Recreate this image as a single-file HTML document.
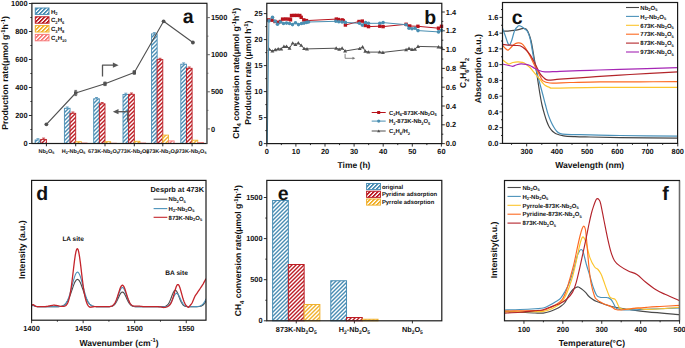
<!DOCTYPE html>
<html><head><meta charset="utf-8"><style>
html,body{margin:0;padding:0;background:#fff;width:685px;height:348px;overflow:hidden}
svg{display:block}
text{font-family:"Liberation Sans", sans-serif;text-rendering:geometricPrecision}
</style></head><body>
<svg width="685" height="348" viewBox="0 0 685 348">
<rect width="685" height="348" fill="#fff"/>
<defs>
<pattern id="hb" patternUnits="userSpaceOnUse" x="0" y="0" width="4" height="4" shape-rendering="crispEdges"><rect width="4" height="4" fill="#fff"/><rect x="0" y="0" width="1" height="1" fill="#4a8db4"/><rect x="1" y="0" width="1" height="1" fill="#4a8db4" fill-opacity="0.5"/><rect x="3" y="0" width="1" height="1" fill="#4a8db4" fill-opacity="0.5"/><rect x="0" y="1" width="1" height="1" fill="#4a8db4" fill-opacity="0.5"/><rect x="2" y="1" width="1" height="1" fill="#4a8db4" fill-opacity="0.5"/><rect x="3" y="1" width="1" height="1" fill="#4a8db4"/><rect x="1" y="2" width="1" height="1" fill="#4a8db4" fill-opacity="0.5"/><rect x="2" y="2" width="1" height="1" fill="#4a8db4"/><rect x="3" y="2" width="1" height="1" fill="#4a8db4" fill-opacity="0.5"/><rect x="0" y="3" width="1" height="1" fill="#4a8db4" fill-opacity="0.5"/><rect x="1" y="3" width="1" height="1" fill="#4a8db4"/><rect x="2" y="3" width="1" height="1" fill="#4a8db4" fill-opacity="0.5"/></pattern>
<pattern id="hr" patternUnits="userSpaceOnUse" x="0" y="0" width="4" height="4" shape-rendering="crispEdges"><rect width="4" height="4" fill="#fff"/><rect x="0" y="0" width="1" height="1" fill="#bc1e25"/><rect x="1" y="0" width="1" height="1" fill="#bc1e25" fill-opacity="0.5"/><rect x="3" y="0" width="1" height="1" fill="#bc1e25" fill-opacity="0.5"/><rect x="0" y="1" width="1" height="1" fill="#bc1e25" fill-opacity="0.5"/><rect x="2" y="1" width="1" height="1" fill="#bc1e25" fill-opacity="0.5"/><rect x="3" y="1" width="1" height="1" fill="#bc1e25"/><rect x="1" y="2" width="1" height="1" fill="#bc1e25" fill-opacity="0.5"/><rect x="2" y="2" width="1" height="1" fill="#bc1e25"/><rect x="3" y="2" width="1" height="1" fill="#bc1e25" fill-opacity="0.5"/><rect x="0" y="3" width="1" height="1" fill="#bc1e25" fill-opacity="0.5"/><rect x="1" y="3" width="1" height="1" fill="#bc1e25"/><rect x="2" y="3" width="1" height="1" fill="#bc1e25" fill-opacity="0.5"/></pattern>
<pattern id="hy" patternUnits="userSpaceOnUse" x="0" y="0" width="4" height="4" shape-rendering="crispEdges"><rect width="4" height="4" fill="#fff"/><rect x="0" y="0" width="1" height="1" fill="#f0b12e"/><rect x="1" y="0" width="1" height="1" fill="#f0b12e" fill-opacity="0.5"/><rect x="3" y="0" width="1" height="1" fill="#f0b12e" fill-opacity="0.5"/><rect x="0" y="1" width="1" height="1" fill="#f0b12e" fill-opacity="0.5"/><rect x="2" y="1" width="1" height="1" fill="#f0b12e" fill-opacity="0.5"/><rect x="3" y="1" width="1" height="1" fill="#f0b12e"/><rect x="1" y="2" width="1" height="1" fill="#f0b12e" fill-opacity="0.5"/><rect x="2" y="2" width="1" height="1" fill="#f0b12e"/><rect x="3" y="2" width="1" height="1" fill="#f0b12e" fill-opacity="0.5"/><rect x="0" y="3" width="1" height="1" fill="#f0b12e" fill-opacity="0.5"/><rect x="1" y="3" width="1" height="1" fill="#f0b12e"/><rect x="2" y="3" width="1" height="1" fill="#f0b12e" fill-opacity="0.5"/></pattern>
<pattern id="hp" patternUnits="userSpaceOnUse" x="0" y="0" width="4" height="4" shape-rendering="crispEdges"><rect width="4" height="4" fill="#fff"/><rect x="0" y="0" width="1" height="1" fill="#f77b7b"/><rect x="1" y="0" width="1" height="1" fill="#f77b7b" fill-opacity="0.5"/><rect x="3" y="0" width="1" height="1" fill="#f77b7b" fill-opacity="0.5"/><rect x="0" y="1" width="1" height="1" fill="#f77b7b" fill-opacity="0.5"/><rect x="2" y="1" width="1" height="1" fill="#f77b7b" fill-opacity="0.5"/><rect x="3" y="1" width="1" height="1" fill="#f77b7b"/><rect x="1" y="2" width="1" height="1" fill="#f77b7b" fill-opacity="0.5"/><rect x="2" y="2" width="1" height="1" fill="#f77b7b"/><rect x="3" y="2" width="1" height="1" fill="#f77b7b" fill-opacity="0.5"/><rect x="0" y="3" width="1" height="1" fill="#f77b7b" fill-opacity="0.5"/><rect x="1" y="3" width="1" height="1" fill="#f77b7b"/><rect x="2" y="3" width="1" height="1" fill="#f77b7b" fill-opacity="0.5"/></pattern>
<pattern id="hbL" patternUnits="userSpaceOnUse" x="0" y="0" width="4" height="4" shape-rendering="crispEdges"><rect width="4" height="4" fill="#fff"/><rect x="0" y="0" width="1" height="1" fill="#4a8db4"/><rect x="1" y="0" width="1" height="1" fill="#4a8db4"/><rect x="2" y="0" width="1" height="1" fill="#4a8db4" fill-opacity="0.3"/><rect x="0" y="1" width="1" height="1" fill="#4a8db4"/><rect x="1" y="1" width="1" height="1" fill="#4a8db4" fill-opacity="0.3"/><rect x="3" y="1" width="1" height="1" fill="#4a8db4"/><rect x="0" y="2" width="1" height="1" fill="#4a8db4" fill-opacity="0.3"/><rect x="2" y="2" width="1" height="1" fill="#4a8db4"/><rect x="3" y="2" width="1" height="1" fill="#4a8db4"/><rect x="1" y="3" width="1" height="1" fill="#4a8db4"/><rect x="2" y="3" width="1" height="1" fill="#4a8db4"/><rect x="3" y="3" width="1" height="1" fill="#4a8db4" fill-opacity="0.3"/></pattern>
<pattern id="hrL" patternUnits="userSpaceOnUse" x="0" y="0" width="4" height="4" shape-rendering="crispEdges"><rect width="4" height="4" fill="#fff"/><rect x="0" y="0" width="1" height="1" fill="#bc1e25"/><rect x="1" y="0" width="1" height="1" fill="#bc1e25"/><rect x="2" y="0" width="1" height="1" fill="#bc1e25" fill-opacity="0.3"/><rect x="0" y="1" width="1" height="1" fill="#bc1e25"/><rect x="1" y="1" width="1" height="1" fill="#bc1e25" fill-opacity="0.3"/><rect x="3" y="1" width="1" height="1" fill="#bc1e25"/><rect x="0" y="2" width="1" height="1" fill="#bc1e25" fill-opacity="0.3"/><rect x="2" y="2" width="1" height="1" fill="#bc1e25"/><rect x="3" y="2" width="1" height="1" fill="#bc1e25"/><rect x="1" y="3" width="1" height="1" fill="#bc1e25"/><rect x="2" y="3" width="1" height="1" fill="#bc1e25"/><rect x="3" y="3" width="1" height="1" fill="#bc1e25" fill-opacity="0.3"/></pattern>
<pattern id="hyL" patternUnits="userSpaceOnUse" x="0" y="0" width="4" height="4" shape-rendering="crispEdges"><rect width="4" height="4" fill="#fff"/><rect x="0" y="0" width="1" height="1" fill="#f0b12e"/><rect x="1" y="0" width="1" height="1" fill="#f0b12e"/><rect x="2" y="0" width="1" height="1" fill="#f0b12e" fill-opacity="0.3"/><rect x="0" y="1" width="1" height="1" fill="#f0b12e"/><rect x="1" y="1" width="1" height="1" fill="#f0b12e" fill-opacity="0.3"/><rect x="3" y="1" width="1" height="1" fill="#f0b12e"/><rect x="0" y="2" width="1" height="1" fill="#f0b12e" fill-opacity="0.3"/><rect x="2" y="2" width="1" height="1" fill="#f0b12e"/><rect x="3" y="2" width="1" height="1" fill="#f0b12e"/><rect x="1" y="3" width="1" height="1" fill="#f0b12e"/><rect x="2" y="3" width="1" height="1" fill="#f0b12e"/><rect x="3" y="3" width="1" height="1" fill="#f0b12e" fill-opacity="0.3"/></pattern>
<pattern id="hpL" patternUnits="userSpaceOnUse" x="0" y="0" width="4" height="4" shape-rendering="crispEdges"><rect width="4" height="4" fill="#fff"/><rect x="0" y="0" width="1" height="1" fill="#f77b7b"/><rect x="1" y="0" width="1" height="1" fill="#f77b7b"/><rect x="2" y="0" width="1" height="1" fill="#f77b7b" fill-opacity="0.3"/><rect x="0" y="1" width="1" height="1" fill="#f77b7b"/><rect x="1" y="1" width="1" height="1" fill="#f77b7b" fill-opacity="0.3"/><rect x="3" y="1" width="1" height="1" fill="#f77b7b"/><rect x="0" y="2" width="1" height="1" fill="#f77b7b" fill-opacity="0.3"/><rect x="2" y="2" width="1" height="1" fill="#f77b7b"/><rect x="3" y="2" width="1" height="1" fill="#f77b7b"/><rect x="1" y="3" width="1" height="1" fill="#f77b7b"/><rect x="2" y="3" width="1" height="1" fill="#f77b7b"/><rect x="3" y="3" width="1" height="1" fill="#f77b7b" fill-opacity="0.3"/></pattern>
</defs>
<line x1="28.90" y1="143.50" x2="31.90" y2="143.50" stroke="#1a1a1a" stroke-width="0.9"/>
<text x="27.5" y="146.1" font-size="7.4" font-weight="bold" text-anchor="end" fill="#111"><tspan>0</tspan></text>
<line x1="30.40" y1="129.50" x2="31.90" y2="129.50" stroke="#1a1a1a" stroke-width="0.9"/>
<line x1="28.90" y1="115.50" x2="31.90" y2="115.50" stroke="#1a1a1a" stroke-width="0.9"/>
<text x="27.5" y="118.1" font-size="7.4" font-weight="bold" text-anchor="end" fill="#111"><tspan>200</tspan></text>
<line x1="30.40" y1="101.50" x2="31.90" y2="101.50" stroke="#1a1a1a" stroke-width="0.9"/>
<line x1="28.90" y1="87.50" x2="31.90" y2="87.50" stroke="#1a1a1a" stroke-width="0.9"/>
<text x="27.5" y="90.1" font-size="7.4" font-weight="bold" text-anchor="end" fill="#111"><tspan>400</tspan></text>
<line x1="30.40" y1="73.50" x2="31.90" y2="73.50" stroke="#1a1a1a" stroke-width="0.9"/>
<line x1="28.90" y1="59.50" x2="31.90" y2="59.50" stroke="#1a1a1a" stroke-width="0.9"/>
<text x="27.5" y="62.09999999999999" font-size="7.4" font-weight="bold" text-anchor="end" fill="#111"><tspan>600</tspan></text>
<line x1="30.40" y1="45.50" x2="31.90" y2="45.50" stroke="#1a1a1a" stroke-width="0.9"/>
<line x1="28.90" y1="31.50" x2="31.90" y2="31.50" stroke="#1a1a1a" stroke-width="0.9"/>
<text x="27.5" y="34.09999999999999" font-size="7.4" font-weight="bold" text-anchor="end" fill="#111"><tspan>800</tspan></text>
<line x1="30.40" y1="17.50" x2="31.90" y2="17.50" stroke="#1a1a1a" stroke-width="0.9"/>
<line x1="28.90" y1="3.50" x2="31.90" y2="3.50" stroke="#1a1a1a" stroke-width="0.9"/>
<text x="27.5" y="6.1" font-size="7.4" font-weight="bold" text-anchor="end" fill="#111"><tspan>1000</tspan></text>
<line x1="206.90" y1="128.90" x2="209.90" y2="128.90" stroke="#555" stroke-width="0.9"/>
<text x="210.9" y="131.5" font-size="7.4" font-weight="bold" text-anchor="start" fill="#111"><tspan>0</tspan></text>
<line x1="206.90" y1="110.35" x2="208.40" y2="110.35" stroke="#555" stroke-width="0.9"/>
<line x1="206.90" y1="91.80" x2="209.90" y2="91.80" stroke="#555" stroke-width="0.9"/>
<text x="210.9" y="94.4" font-size="7.4" font-weight="bold" text-anchor="start" fill="#111"><tspan>500</tspan></text>
<line x1="206.90" y1="73.25" x2="208.40" y2="73.25" stroke="#555" stroke-width="0.9"/>
<line x1="206.90" y1="54.70" x2="209.90" y2="54.70" stroke="#555" stroke-width="0.9"/>
<text x="210.9" y="57.300000000000004" font-size="7.4" font-weight="bold" text-anchor="start" fill="#111"><tspan>1000</tspan></text>
<line x1="206.90" y1="36.15" x2="208.40" y2="36.15" stroke="#555" stroke-width="0.9"/>
<line x1="206.90" y1="17.60" x2="209.90" y2="17.60" stroke="#555" stroke-width="0.9"/>
<text x="210.9" y="20.20000000000001" font-size="7.4" font-weight="bold" text-anchor="start" fill="#111"><tspan>1500</tspan></text>
<line x1="46.40" y1="143.50" x2="46.40" y2="146.30" stroke="#1a1a1a" stroke-width="0.9"/>
<text x="46.4" y="152.6" font-size="5.5" font-weight="bold" text-anchor="middle" fill="#111"><tspan>Nb</tspan><tspan dy="1.38" font-size="3.74">2</tspan><tspan dy="-1.38">O</tspan><tspan dy="1.38" font-size="3.74">5</tspan></text>
<line x1="75.70" y1="143.50" x2="75.70" y2="146.30" stroke="#1a1a1a" stroke-width="0.9"/>
<text x="73.5" y="152.6" font-size="5.5" font-weight="bold" text-anchor="middle" fill="#111"><tspan>H</tspan><tspan dy="1.38" font-size="3.74">2</tspan><tspan dy="-1.38">-Nb</tspan><tspan dy="1.38" font-size="3.74">2</tspan><tspan dy="-1.38">O</tspan><tspan dy="1.38" font-size="3.74">5</tspan></text>
<line x1="105.00" y1="143.50" x2="105.00" y2="146.30" stroke="#1a1a1a" stroke-width="0.9"/>
<text x="103.4" y="152.6" font-size="5.5" font-weight="bold" text-anchor="middle" fill="#111"><tspan>673K-Nb</tspan><tspan dy="1.38" font-size="3.74">2</tspan><tspan dy="-1.38">O</tspan><tspan dy="1.38" font-size="3.74">5</tspan></text>
<line x1="134.30" y1="143.50" x2="134.30" y2="146.30" stroke="#1a1a1a" stroke-width="0.9"/>
<text x="133.10000000000002" y="152.6" font-size="5.5" font-weight="bold" text-anchor="middle" fill="#111"><tspan>773K-Nb</tspan><tspan dy="1.38" font-size="3.74">2</tspan><tspan dy="-1.38">O</tspan><tspan dy="1.38" font-size="3.74">5</tspan></text>
<line x1="162.80" y1="143.50" x2="162.80" y2="146.30" stroke="#1a1a1a" stroke-width="0.9"/>
<text x="161.5" y="152.6" font-size="5.5" font-weight="bold" text-anchor="middle" fill="#111"><tspan>873K-Nb</tspan><tspan dy="1.38" font-size="3.74">2</tspan><tspan dy="-1.38">O</tspan><tspan dy="1.38" font-size="3.74">5</tspan></text>
<line x1="192.10" y1="143.50" x2="192.10" y2="146.30" stroke="#1a1a1a" stroke-width="0.9"/>
<text x="191.1" y="152.6" font-size="5.5" font-weight="bold" text-anchor="middle" fill="#111"><tspan>973K-Nb</tspan><tspan dy="1.38" font-size="3.74">2</tspan><tspan dy="-1.38">O</tspan><tspan dy="1.38" font-size="3.74">5</tspan></text>
<rect x="35.10" y="140.00" width="5.65" height="3.50" fill="url(#hb)" stroke="#4a8db4" stroke-width="0.9"/>
<rect x="40.75" y="139.40" width="5.65" height="4.10" fill="url(#hr)" stroke="#bc1e25" stroke-width="0.9"/>
<line x1="37.92" y1="138.70" x2="37.92" y2="140.00" stroke="#4a8db4" stroke-width="0.8"/>
<line x1="36.42" y1="138.70" x2="39.42" y2="138.70" stroke="#4a8db4" stroke-width="0.8"/>
<line x1="43.58" y1="138.10" x2="43.58" y2="139.40" stroke="#bc1e25" stroke-width="0.8"/>
<line x1="42.08" y1="138.10" x2="45.08" y2="138.10" stroke="#bc1e25" stroke-width="0.8"/>
<rect x="64.40" y="108.30" width="5.65" height="35.20" fill="url(#hb)" stroke="#4a8db4" stroke-width="0.9"/>
<rect x="70.05" y="113.30" width="5.65" height="30.20" fill="url(#hr)" stroke="#bc1e25" stroke-width="0.9"/>
<rect x="75.70" y="141.70" width="5.65" height="1.80" fill="url(#hy)" stroke="#f0b12e" stroke-width="0.9"/>
<rect x="81.35" y="143.00" width="5.65" height="0.50" fill="url(#hp)" stroke="#f77b7b" stroke-width="0.9"/>
<line x1="67.22" y1="107.00" x2="67.22" y2="108.30" stroke="#4a8db4" stroke-width="0.8"/>
<line x1="65.72" y1="107.00" x2="68.72" y2="107.00" stroke="#4a8db4" stroke-width="0.8"/>
<line x1="72.88" y1="112.00" x2="72.88" y2="113.30" stroke="#bc1e25" stroke-width="0.8"/>
<line x1="71.38" y1="112.00" x2="74.38" y2="112.00" stroke="#bc1e25" stroke-width="0.8"/>
<rect x="93.70" y="98.80" width="5.65" height="44.70" fill="url(#hb)" stroke="#4a8db4" stroke-width="0.9"/>
<rect x="99.35" y="103.80" width="5.65" height="39.70" fill="url(#hr)" stroke="#bc1e25" stroke-width="0.9"/>
<rect x="105.00" y="141.70" width="5.65" height="1.80" fill="url(#hy)" stroke="#f0b12e" stroke-width="0.9"/>
<rect x="110.65" y="143.20" width="5.65" height="0.30" fill="url(#hp)" stroke="#f77b7b" stroke-width="0.9"/>
<line x1="96.53" y1="97.50" x2="96.53" y2="98.80" stroke="#4a8db4" stroke-width="0.8"/>
<line x1="95.03" y1="97.50" x2="98.03" y2="97.50" stroke="#4a8db4" stroke-width="0.8"/>
<line x1="102.17" y1="102.50" x2="102.17" y2="103.80" stroke="#bc1e25" stroke-width="0.8"/>
<line x1="100.67" y1="102.50" x2="103.67" y2="102.50" stroke="#bc1e25" stroke-width="0.8"/>
<rect x="123.00" y="94.50" width="5.65" height="49.00" fill="url(#hb)" stroke="#4a8db4" stroke-width="0.9"/>
<rect x="128.65" y="94.30" width="5.65" height="49.20" fill="url(#hr)" stroke="#bc1e25" stroke-width="0.9"/>
<rect x="134.30" y="141.30" width="5.65" height="2.20" fill="url(#hy)" stroke="#f0b12e" stroke-width="0.9"/>
<rect x="139.95" y="143.00" width="5.65" height="0.50" fill="url(#hp)" stroke="#f77b7b" stroke-width="0.9"/>
<line x1="125.83" y1="93.20" x2="125.83" y2="94.50" stroke="#4a8db4" stroke-width="0.8"/>
<line x1="124.33" y1="93.20" x2="127.33" y2="93.20" stroke="#4a8db4" stroke-width="0.8"/>
<line x1="131.48" y1="93.00" x2="131.48" y2="94.30" stroke="#bc1e25" stroke-width="0.8"/>
<line x1="129.98" y1="93.00" x2="132.98" y2="93.00" stroke="#bc1e25" stroke-width="0.8"/>
<rect x="151.50" y="33.90" width="5.65" height="109.60" fill="url(#hb)" stroke="#4a8db4" stroke-width="0.9"/>
<rect x="157.15" y="59.60" width="5.65" height="83.90" fill="url(#hr)" stroke="#bc1e25" stroke-width="0.9"/>
<rect x="162.80" y="135.10" width="5.65" height="8.40" fill="url(#hy)" stroke="#f0b12e" stroke-width="0.9"/>
<rect x="168.45" y="140.90" width="5.65" height="2.60" fill="url(#hp)" stroke="#f77b7b" stroke-width="0.9"/>
<line x1="154.32" y1="32.60" x2="154.32" y2="33.90" stroke="#4a8db4" stroke-width="0.8"/>
<line x1="152.82" y1="32.60" x2="155.82" y2="32.60" stroke="#4a8db4" stroke-width="0.8"/>
<line x1="159.98" y1="58.30" x2="159.98" y2="59.60" stroke="#bc1e25" stroke-width="0.8"/>
<line x1="158.48" y1="58.30" x2="161.48" y2="58.30" stroke="#bc1e25" stroke-width="0.8"/>
<rect x="180.80" y="64.20" width="5.65" height="79.30" fill="url(#hb)" stroke="#4a8db4" stroke-width="0.9"/>
<rect x="186.45" y="68.30" width="5.65" height="75.20" fill="url(#hr)" stroke="#bc1e25" stroke-width="0.9"/>
<rect x="192.10" y="140.20" width="5.65" height="3.30" fill="url(#hy)" stroke="#f0b12e" stroke-width="0.9"/>
<rect x="197.75" y="142.50" width="5.65" height="1.00" fill="url(#hp)" stroke="#f77b7b" stroke-width="0.9"/>
<line x1="183.62" y1="62.90" x2="183.62" y2="64.20" stroke="#4a8db4" stroke-width="0.8"/>
<line x1="182.12" y1="62.90" x2="185.12" y2="62.90" stroke="#4a8db4" stroke-width="0.8"/>
<line x1="189.27" y1="67.00" x2="189.27" y2="68.30" stroke="#bc1e25" stroke-width="0.8"/>
<line x1="187.77" y1="67.00" x2="190.77" y2="67.00" stroke="#bc1e25" stroke-width="0.8"/>
<polyline points="46.40,124.30 75.70,93.00 105.00,83.80 134.30,72.50 163.60,21.30 192.90,42.50" fill="none" stroke="#505050" stroke-width="1.1" stroke-linejoin="round"/>
<circle cx="46.4" cy="124.3" r="1.9" fill="#505050"/>
<rect x="74.00" y="91.30" width="3.4" height="3.4" fill="#505050"/>
<line x1="75.70" y1="90.40" x2="75.70" y2="95.60" stroke="#505050" stroke-width="0.8"/>
<line x1="74.30" y1="90.40" x2="77.10" y2="90.40" stroke="#505050" stroke-width="0.8"/>
<line x1="74.30" y1="95.60" x2="77.10" y2="95.60" stroke="#505050" stroke-width="0.8"/>
<rect x="103.30" y="82.10" width="3.4" height="3.4" fill="#505050"/>
<line x1="105.00" y1="82.00" x2="105.00" y2="85.60" stroke="#505050" stroke-width="0.8"/>
<line x1="103.60" y1="82.00" x2="106.40" y2="82.00" stroke="#505050" stroke-width="0.8"/>
<line x1="103.60" y1="85.60" x2="106.40" y2="85.60" stroke="#505050" stroke-width="0.8"/>
<rect x="132.60" y="70.80" width="3.4" height="3.4" fill="#505050"/>
<line x1="134.30" y1="70.70" x2="134.30" y2="74.30" stroke="#505050" stroke-width="0.8"/>
<line x1="132.90" y1="70.70" x2="135.70" y2="70.70" stroke="#505050" stroke-width="0.8"/>
<line x1="132.90" y1="74.30" x2="135.70" y2="74.30" stroke="#505050" stroke-width="0.8"/>
<circle cx="163.6" cy="21.3" r="1.9" fill="#505050"/>
<circle cx="192.9" cy="42.5" r="1.9" fill="#505050"/>
<polyline points="102.50,76.40 102.50,65.20 114.00,65.20" fill="none" stroke="#555" stroke-width="1.3" stroke-linejoin="round"/>
<path d="M112.9,62.6 L118.6,65.2 L112.9,67.8 Z" fill="#555"/>
<line x1="127.80" y1="110.00" x2="127.80" y2="122.00" stroke="#555" stroke-width="1.3"/>
<line x1="127.80" y1="111.70" x2="117.50" y2="111.70" stroke="#555" stroke-width="1.3"/>
<path d="M118.5,109.1 L112.8,111.7 L118.5,114.3 Z" fill="#555"/>
<rect x="31.9" y="3.3" width="175.0" height="140.2" fill="none" stroke="#1a1a1a" stroke-width="1.2"/>
<line x1="206.90" y1="3.90" x2="206.90" y2="143.50" stroke="#7a7a7a" stroke-width="1.3"/>
<rect x="35.30" y="8.00" width="13.70" height="6.40" fill="url(#hbL)" stroke="#4a8db4" stroke-width="1.0"/>
<text x="51.0" y="13.6" font-size="6.0" font-weight="bold" text-anchor="start" fill="#111"><tspan>H</tspan><tspan dy="1.50" font-size="4.08">2</tspan></text>
<rect x="35.30" y="16.80" width="13.70" height="6.40" fill="url(#hrL)" stroke="#bc1e25" stroke-width="1.0"/>
<text x="51.0" y="22.4" font-size="6.0" font-weight="bold" text-anchor="start" fill="#111"><tspan>C</tspan><tspan dy="1.50" font-size="4.08">2</tspan><tspan dy="-1.50">H</tspan><tspan dy="1.50" font-size="4.08">6</tspan></text>
<rect x="35.30" y="25.60" width="13.70" height="6.40" fill="url(#hyL)" stroke="#f0b12e" stroke-width="1.0"/>
<text x="51.0" y="31.200000000000003" font-size="6.0" font-weight="bold" text-anchor="start" fill="#111"><tspan>C</tspan><tspan dy="1.50" font-size="4.08">3</tspan><tspan dy="-1.50">H</tspan><tspan dy="1.50" font-size="4.08">8</tspan></text>
<rect x="35.30" y="34.40" width="13.70" height="6.40" fill="url(#hpL)" stroke="#f77b7b" stroke-width="1.0"/>
<text x="51.0" y="40.00000000000001" font-size="6.0" font-weight="bold" text-anchor="start" fill="#111"><tspan>C</tspan><tspan dy="1.50" font-size="4.08">4</tspan><tspan dy="-1.50">H</tspan><tspan dy="1.50" font-size="4.08">10</tspan></text>
<text x="188.1" y="22.8" font-size="19.5" font-weight="bold" text-anchor="middle" fill="#111"><tspan>a</tspan></text>
<text x="8.4" y="73.0" font-size="8.6" font-weight="bold" text-anchor="middle" fill="#111" transform="rotate(-90 8.4 73.0)" textLength="113.6" lengthAdjust="spacingAndGlyphs"><tspan>Production rate(μmol g</tspan><tspan dy="-3.27" font-size="5.85">-1</tspan><tspan dy="3.27">h</tspan><tspan dy="-3.27" font-size="5.85">-1</tspan><tspan dy="3.27">)</tspan></text>
<line x1="263.80" y1="143.60" x2="266.80" y2="143.60" stroke="#1a1a1a" stroke-width="0.9"/>
<text x="262.6" y="146.2" font-size="7.4" font-weight="bold" text-anchor="end" fill="#111"><tspan>0</tspan></text>
<line x1="265.30" y1="130.60" x2="266.80" y2="130.60" stroke="#1a1a1a" stroke-width="0.9"/>
<line x1="263.80" y1="117.60" x2="266.80" y2="117.60" stroke="#1a1a1a" stroke-width="0.9"/>
<text x="262.6" y="120.19999999999999" font-size="7.4" font-weight="bold" text-anchor="end" fill="#111"><tspan>5</tspan></text>
<line x1="265.30" y1="104.60" x2="266.80" y2="104.60" stroke="#1a1a1a" stroke-width="0.9"/>
<line x1="263.80" y1="91.60" x2="266.80" y2="91.60" stroke="#1a1a1a" stroke-width="0.9"/>
<text x="262.6" y="94.19999999999999" font-size="7.4" font-weight="bold" text-anchor="end" fill="#111"><tspan>10</tspan></text>
<line x1="265.30" y1="78.60" x2="266.80" y2="78.60" stroke="#1a1a1a" stroke-width="0.9"/>
<line x1="263.80" y1="65.60" x2="266.80" y2="65.60" stroke="#1a1a1a" stroke-width="0.9"/>
<text x="262.6" y="68.19999999999999" font-size="7.4" font-weight="bold" text-anchor="end" fill="#111"><tspan>15</tspan></text>
<line x1="265.30" y1="52.60" x2="266.80" y2="52.60" stroke="#1a1a1a" stroke-width="0.9"/>
<line x1="263.80" y1="39.60" x2="266.80" y2="39.60" stroke="#1a1a1a" stroke-width="0.9"/>
<text x="262.6" y="42.199999999999996" font-size="7.4" font-weight="bold" text-anchor="end" fill="#111"><tspan>20</tspan></text>
<line x1="265.30" y1="26.60" x2="266.80" y2="26.60" stroke="#1a1a1a" stroke-width="0.9"/>
<line x1="263.80" y1="13.60" x2="266.80" y2="13.60" stroke="#1a1a1a" stroke-width="0.9"/>
<text x="262.6" y="16.199999999999996" font-size="7.4" font-weight="bold" text-anchor="end" fill="#111"><tspan>25</tspan></text>
<line x1="441.80" y1="143.60" x2="444.80" y2="143.60" stroke="#1a1a1a" stroke-width="0.9"/>
<text x="445.8" y="146.2" font-size="7.4" font-weight="bold" text-anchor="start" fill="#111"><tspan>0.0</tspan></text>
<line x1="441.80" y1="134.20" x2="443.30" y2="134.20" stroke="#1a1a1a" stroke-width="0.9"/>
<line x1="441.80" y1="124.80" x2="444.80" y2="124.80" stroke="#1a1a1a" stroke-width="0.9"/>
<text x="445.8" y="127.39999999999999" font-size="7.4" font-weight="bold" text-anchor="start" fill="#111"><tspan>0.2</tspan></text>
<line x1="441.80" y1="115.40" x2="443.30" y2="115.40" stroke="#1a1a1a" stroke-width="0.9"/>
<line x1="441.80" y1="106.00" x2="444.80" y2="106.00" stroke="#1a1a1a" stroke-width="0.9"/>
<text x="445.8" y="108.6" font-size="7.4" font-weight="bold" text-anchor="start" fill="#111"><tspan>0.4</tspan></text>
<line x1="441.80" y1="96.60" x2="443.30" y2="96.60" stroke="#1a1a1a" stroke-width="0.9"/>
<line x1="441.80" y1="87.20" x2="444.80" y2="87.20" stroke="#1a1a1a" stroke-width="0.9"/>
<text x="445.8" y="89.79999999999998" font-size="7.4" font-weight="bold" text-anchor="start" fill="#111"><tspan>0.6</tspan></text>
<line x1="441.80" y1="77.80" x2="443.30" y2="77.80" stroke="#1a1a1a" stroke-width="0.9"/>
<line x1="441.80" y1="68.40" x2="444.80" y2="68.40" stroke="#1a1a1a" stroke-width="0.9"/>
<text x="445.8" y="70.99999999999999" font-size="7.4" font-weight="bold" text-anchor="start" fill="#111"><tspan>0.8</tspan></text>
<line x1="441.80" y1="59.00" x2="443.30" y2="59.00" stroke="#1a1a1a" stroke-width="0.9"/>
<line x1="441.80" y1="49.60" x2="444.80" y2="49.60" stroke="#1a1a1a" stroke-width="0.9"/>
<text x="445.8" y="52.199999999999996" font-size="7.4" font-weight="bold" text-anchor="start" fill="#111"><tspan>1.0</tspan></text>
<line x1="441.80" y1="40.20" x2="443.30" y2="40.20" stroke="#1a1a1a" stroke-width="0.9"/>
<line x1="441.80" y1="30.80" x2="444.80" y2="30.80" stroke="#1a1a1a" stroke-width="0.9"/>
<text x="445.8" y="33.399999999999984" font-size="7.4" font-weight="bold" text-anchor="start" fill="#111"><tspan>1.2</tspan></text>
<line x1="441.80" y1="21.40" x2="443.30" y2="21.40" stroke="#1a1a1a" stroke-width="0.9"/>
<line x1="441.80" y1="12.00" x2="444.80" y2="12.00" stroke="#1a1a1a" stroke-width="0.9"/>
<text x="445.8" y="14.599999999999971" font-size="7.4" font-weight="bold" text-anchor="start" fill="#111"><tspan>1.4</tspan></text>
<line x1="266.80" y1="143.60" x2="266.80" y2="146.60" stroke="#1a1a1a" stroke-width="0.9"/>
<text x="266.8" y="153.8" font-size="7.4" font-weight="bold" text-anchor="middle" fill="#111"><tspan>0</tspan></text>
<line x1="281.35" y1="143.60" x2="281.35" y2="145.10" stroke="#1a1a1a" stroke-width="0.9"/>
<line x1="295.90" y1="143.60" x2="295.90" y2="146.60" stroke="#1a1a1a" stroke-width="0.9"/>
<text x="295.90000000000003" y="153.8" font-size="7.4" font-weight="bold" text-anchor="middle" fill="#111"><tspan>10</tspan></text>
<line x1="310.45" y1="143.60" x2="310.45" y2="145.10" stroke="#1a1a1a" stroke-width="0.9"/>
<line x1="325.00" y1="143.60" x2="325.00" y2="146.60" stroke="#1a1a1a" stroke-width="0.9"/>
<text x="325.0" y="153.8" font-size="7.4" font-weight="bold" text-anchor="middle" fill="#111"><tspan>20</tspan></text>
<line x1="339.55" y1="143.60" x2="339.55" y2="145.10" stroke="#1a1a1a" stroke-width="0.9"/>
<line x1="354.10" y1="143.60" x2="354.10" y2="146.60" stroke="#1a1a1a" stroke-width="0.9"/>
<text x="354.1" y="153.8" font-size="7.4" font-weight="bold" text-anchor="middle" fill="#111"><tspan>30</tspan></text>
<line x1="368.65" y1="143.60" x2="368.65" y2="145.10" stroke="#1a1a1a" stroke-width="0.9"/>
<line x1="383.20" y1="143.60" x2="383.20" y2="146.60" stroke="#1a1a1a" stroke-width="0.9"/>
<text x="383.20000000000005" y="153.8" font-size="7.4" font-weight="bold" text-anchor="middle" fill="#111"><tspan>40</tspan></text>
<line x1="397.75" y1="143.60" x2="397.75" y2="145.10" stroke="#1a1a1a" stroke-width="0.9"/>
<line x1="412.30" y1="143.60" x2="412.30" y2="146.60" stroke="#1a1a1a" stroke-width="0.9"/>
<text x="412.3" y="153.8" font-size="7.4" font-weight="bold" text-anchor="middle" fill="#111"><tspan>50</tspan></text>
<line x1="426.85" y1="143.60" x2="426.85" y2="145.10" stroke="#1a1a1a" stroke-width="0.9"/>
<line x1="441.40" y1="143.60" x2="441.40" y2="146.60" stroke="#1a1a1a" stroke-width="0.9"/>
<text x="441.40000000000003" y="153.8" font-size="7.4" font-weight="bold" text-anchor="middle" fill="#111"><tspan>60</tspan></text>
<text x="354.0" y="167.9" font-size="8.5" font-weight="bold" text-anchor="middle" fill="#111" textLength="32.8" lengthAdjust="spacingAndGlyphs"><tspan>Time (h)</tspan></text>
<text x="239.0" y="73.3" font-size="8.6" font-weight="bold" text-anchor="middle" fill="#111" transform="rotate(-90 239.0 73.3)" textLength="131" lengthAdjust="spacingAndGlyphs"><tspan>CH</tspan><tspan dy="2.15" font-size="5.85">4</tspan><tspan dy="-2.15"> conversion rate(μmol g</tspan><tspan dy="-3.27" font-size="5.85">-1</tspan><tspan dy="3.27">h</tspan><tspan dy="-3.27" font-size="5.85">-1</tspan><tspan dy="3.27">)</tspan></text>
<text x="250.8" y="72.65" font-size="8.6" font-weight="bold" text-anchor="middle" fill="#111" transform="rotate(-90 250.8 72.65)" textLength="104" lengthAdjust="spacingAndGlyphs"><tspan>Production rate (μmol h</tspan><tspan dy="-3.27" font-size="5.85">-1</tspan><tspan dy="3.27">)</tspan></text>
<text x="466.4" y="72.9" font-size="8.6" font-weight="bold" text-anchor="middle" fill="#111" transform="rotate(-90 466.4 72.9)" textLength="30" lengthAdjust="spacingAndGlyphs"><tspan>C</tspan><tspan dy="2.15" font-size="5.85">2</tspan><tspan dy="-2.15">H</tspan><tspan dy="2.15" font-size="5.85">6</tspan><tspan dy="-2.15">/H</tspan><tspan dy="2.15" font-size="5.85">2</tspan></text>
<polyline points="269.30,49.30 272.40,51.10 275.30,49.70 278.20,48.90 281.20,48.90 283.90,46.40 286.60,46.40 289.50,48.20 292.70,43.10 295.40,44.60 298.30,43.00 301.20,45.30 304.10,48.60 307.00,48.90 336.20,48.20 339.20,49.30 342.10,48.20 345.10,51.00 359.70,48.60 362.60,46.90 365.30,51.20 368.40,52.10 379.60,52.10 382.90,52.40 406.10,49.70 409.00,48.40 412.00,49.50 415.00,49.20 418.00,46.40 438.50,46.90 441.50,47.30" fill="none" stroke="#505050" stroke-width="1.0" stroke-linejoin="round"/>
<path d="M267.30,50.80 L269.30,47.40 L271.30,50.80 Z" fill="#505050"/>
<path d="M270.40,52.60 L272.40,49.20 L274.40,52.60 Z" fill="#505050"/>
<path d="M273.30,51.20 L275.30,47.80 L277.30,51.20 Z" fill="#505050"/>
<path d="M276.20,50.40 L278.20,47.00 L280.20,50.40 Z" fill="#505050"/>
<path d="M279.20,50.40 L281.20,47.00 L283.20,50.40 Z" fill="#505050"/>
<path d="M281.90,47.90 L283.90,44.50 L285.90,47.90 Z" fill="#505050"/>
<path d="M284.60,47.90 L286.60,44.50 L288.60,47.90 Z" fill="#505050"/>
<path d="M287.50,49.70 L289.50,46.30 L291.50,49.70 Z" fill="#505050"/>
<path d="M290.70,44.60 L292.70,41.20 L294.70,44.60 Z" fill="#505050"/>
<path d="M293.40,46.10 L295.40,42.70 L297.40,46.10 Z" fill="#505050"/>
<path d="M296.30,44.50 L298.30,41.10 L300.30,44.50 Z" fill="#505050"/>
<path d="M299.20,46.80 L301.20,43.40 L303.20,46.80 Z" fill="#505050"/>
<path d="M302.10,50.10 L304.10,46.70 L306.10,50.10 Z" fill="#505050"/>
<path d="M305.00,50.40 L307.00,47.00 L309.00,50.40 Z" fill="#505050"/>
<path d="M334.20,49.70 L336.20,46.30 L338.20,49.70 Z" fill="#505050"/>
<path d="M337.20,50.80 L339.20,47.40 L341.20,50.80 Z" fill="#505050"/>
<path d="M340.10,49.70 L342.10,46.30 L344.10,49.70 Z" fill="#505050"/>
<path d="M343.10,52.50 L345.10,49.10 L347.10,52.50 Z" fill="#505050"/>
<path d="M357.70,50.10 L359.70,46.70 L361.70,50.10 Z" fill="#505050"/>
<path d="M360.60,48.40 L362.60,45.00 L364.60,48.40 Z" fill="#505050"/>
<path d="M363.30,52.70 L365.30,49.30 L367.30,52.70 Z" fill="#505050"/>
<path d="M366.40,53.60 L368.40,50.20 L370.40,53.60 Z" fill="#505050"/>
<path d="M377.60,53.60 L379.60,50.20 L381.60,53.60 Z" fill="#505050"/>
<path d="M380.90,53.90 L382.90,50.50 L384.90,53.90 Z" fill="#505050"/>
<path d="M404.10,51.20 L406.10,47.80 L408.10,51.20 Z" fill="#505050"/>
<path d="M407.00,49.90 L409.00,46.50 L411.00,49.90 Z" fill="#505050"/>
<path d="M410.00,51.00 L412.00,47.60 L414.00,51.00 Z" fill="#505050"/>
<path d="M413.00,50.70 L415.00,47.30 L417.00,50.70 Z" fill="#505050"/>
<path d="M416.00,47.90 L418.00,44.50 L420.00,47.90 Z" fill="#505050"/>
<path d="M436.50,48.40 L438.50,45.00 L440.50,48.40 Z" fill="#505050"/>
<path d="M439.50,48.80 L441.50,45.40 L443.50,48.80 Z" fill="#505050"/>
<polyline points="268.70,19.90 272.00,20.20 275.00,21.50 278.00,22.30 280.50,21.50 282.60,19.10 285.70,19.00 288.80,19.10 290.50,19.80 291.50,15.50 294.30,15.40 297.10,15.40 299.80,15.50 301.20,17.30 303.80,19.90 306.50,20.60 336.30,19.10 338.30,19.50 342.10,19.90 343.20,20.60 345.40,25.00 359.00,21.50 362.30,21.10 365.20,25.50 368.50,26.60 379.80,26.20 383.10,26.60 406.10,24.30 409.70,26.00 417.90,26.30 438.50,28.20 441.50,26.30" fill="none" stroke="#b8121b" stroke-width="1.0" stroke-linejoin="round"/>
<rect x="267.00" y="18.20" width="3.4" height="3.4" fill="#b8121b"/>
<rect x="270.30" y="18.50" width="3.4" height="3.4" fill="#b8121b"/>
<rect x="273.30" y="19.80" width="3.4" height="3.4" fill="#b8121b"/>
<rect x="276.30" y="20.60" width="3.4" height="3.4" fill="#b8121b"/>
<rect x="278.80" y="19.80" width="3.4" height="3.4" fill="#b8121b"/>
<rect x="280.90" y="17.40" width="3.4" height="3.4" fill="#b8121b"/>
<rect x="284.00" y="17.30" width="3.4" height="3.4" fill="#b8121b"/>
<rect x="287.10" y="17.40" width="3.4" height="3.4" fill="#b8121b"/>
<rect x="288.80" y="18.10" width="3.4" height="3.4" fill="#b8121b"/>
<rect x="289.80" y="13.80" width="3.4" height="3.4" fill="#b8121b"/>
<rect x="292.60" y="13.70" width="3.4" height="3.4" fill="#b8121b"/>
<rect x="295.40" y="13.70" width="3.4" height="3.4" fill="#b8121b"/>
<rect x="298.10" y="13.80" width="3.4" height="3.4" fill="#b8121b"/>
<rect x="299.50" y="15.60" width="3.4" height="3.4" fill="#b8121b"/>
<rect x="302.10" y="18.20" width="3.4" height="3.4" fill="#b8121b"/>
<rect x="304.80" y="18.90" width="3.4" height="3.4" fill="#b8121b"/>
<rect x="334.60" y="17.40" width="3.4" height="3.4" fill="#b8121b"/>
<rect x="336.60" y="17.80" width="3.4" height="3.4" fill="#b8121b"/>
<rect x="340.40" y="18.20" width="3.4" height="3.4" fill="#b8121b"/>
<rect x="341.50" y="18.90" width="3.4" height="3.4" fill="#b8121b"/>
<rect x="343.70" y="23.30" width="3.4" height="3.4" fill="#b8121b"/>
<rect x="357.30" y="19.80" width="3.4" height="3.4" fill="#b8121b"/>
<rect x="360.60" y="19.40" width="3.4" height="3.4" fill="#b8121b"/>
<rect x="363.50" y="23.80" width="3.4" height="3.4" fill="#b8121b"/>
<rect x="366.80" y="24.90" width="3.4" height="3.4" fill="#b8121b"/>
<rect x="378.10" y="24.50" width="3.4" height="3.4" fill="#b8121b"/>
<rect x="381.40" y="24.90" width="3.4" height="3.4" fill="#b8121b"/>
<rect x="404.40" y="22.60" width="3.4" height="3.4" fill="#b8121b"/>
<rect x="408.00" y="24.30" width="3.4" height="3.4" fill="#b8121b"/>
<rect x="416.20" y="24.60" width="3.4" height="3.4" fill="#b8121b"/>
<rect x="436.80" y="26.50" width="3.4" height="3.4" fill="#b8121b"/>
<rect x="439.80" y="24.60" width="3.4" height="3.4" fill="#b8121b"/>
<polyline points="267.30,143.50 268.90,20.90 272.50,17.30 275.20,21.30 277.50,24.20 280.50,22.00 283.50,23.50 286.50,23.10 289.50,23.50 292.50,24.60 295.50,22.80 298.50,24.60 301.50,23.50 304.00,23.10 306.50,22.40 308.50,22.00 335.90,21.30 338.80,21.70 342.10,22.00 345.40,22.40 359.40,23.30 362.30,25.10 365.60,22.60 368.50,23.30 379.80,23.30 383.10,22.60 406.10,24.70 409.00,28.20 412.00,28.70 415.00,28.20 418.00,30.60 438.50,31.90 441.50,30.30" fill="none" stroke="#4a8fb2" stroke-width="1.0" stroke-linejoin="round"/>
<circle cx="268.90" cy="20.90" r="1.8" fill="#4a8fb2"/>
<circle cx="272.50" cy="17.30" r="1.8" fill="#4a8fb2"/>
<circle cx="275.20" cy="21.30" r="1.8" fill="#4a8fb2"/>
<circle cx="277.50" cy="24.20" r="1.8" fill="#4a8fb2"/>
<circle cx="280.50" cy="22.00" r="1.8" fill="#4a8fb2"/>
<circle cx="283.50" cy="23.50" r="1.8" fill="#4a8fb2"/>
<circle cx="286.50" cy="23.10" r="1.8" fill="#4a8fb2"/>
<circle cx="289.50" cy="23.50" r="1.8" fill="#4a8fb2"/>
<circle cx="292.50" cy="24.60" r="1.8" fill="#4a8fb2"/>
<circle cx="295.50" cy="22.80" r="1.8" fill="#4a8fb2"/>
<circle cx="298.50" cy="24.60" r="1.8" fill="#4a8fb2"/>
<circle cx="301.50" cy="23.50" r="1.8" fill="#4a8fb2"/>
<circle cx="304.00" cy="23.10" r="1.8" fill="#4a8fb2"/>
<circle cx="306.50" cy="22.40" r="1.8" fill="#4a8fb2"/>
<circle cx="308.50" cy="22.00" r="1.8" fill="#4a8fb2"/>
<circle cx="335.90" cy="21.30" r="1.8" fill="#4a8fb2"/>
<circle cx="338.80" cy="21.70" r="1.8" fill="#4a8fb2"/>
<circle cx="342.10" cy="22.00" r="1.8" fill="#4a8fb2"/>
<circle cx="345.40" cy="22.40" r="1.8" fill="#4a8fb2"/>
<circle cx="359.40" cy="23.30" r="1.8" fill="#4a8fb2"/>
<circle cx="362.30" cy="25.10" r="1.8" fill="#4a8fb2"/>
<circle cx="365.60" cy="22.60" r="1.8" fill="#4a8fb2"/>
<circle cx="368.50" cy="23.30" r="1.8" fill="#4a8fb2"/>
<circle cx="379.80" cy="23.30" r="1.8" fill="#4a8fb2"/>
<circle cx="383.10" cy="22.60" r="1.8" fill="#4a8fb2"/>
<circle cx="406.10" cy="24.70" r="1.8" fill="#4a8fb2"/>
<circle cx="409.00" cy="28.20" r="1.8" fill="#4a8fb2"/>
<circle cx="412.00" cy="28.70" r="1.8" fill="#4a8fb2"/>
<circle cx="415.00" cy="28.20" r="1.8" fill="#4a8fb2"/>
<circle cx="418.00" cy="30.60" r="1.8" fill="#4a8fb2"/>
<circle cx="438.50" cy="31.90" r="1.8" fill="#4a8fb2"/>
<circle cx="441.50" cy="30.30" r="1.8" fill="#4a8fb2"/>
<polyline points="345.10,53.80 345.10,58.30 353.00,58.30" fill="none" stroke="#777" stroke-width="0.9" stroke-linejoin="round"/>
<path d="M352.5,56.8 L355.3,58.3 L352.5,59.8 Z" fill="#777"/>
<rect x="266.8" y="3.3" width="175.0" height="140.29999999999998" fill="none" stroke="#1a1a1a" stroke-width="1.2"/>
<text x="430.1" y="23.6" font-size="19.5" font-weight="bold" text-anchor="middle" fill="#111"><tspan>b</tspan></text>
<line x1="371.70" y1="112.50" x2="385.70" y2="112.50" stroke="#b8121b" stroke-width="1.0"/>
<rect x="377.2" y="111.0" width="3" height="3" fill="#b8121b"/>
<text x="388.9" y="114.7" font-size="5.9" font-weight="bold" text-anchor="start" fill="#111"><tspan>C</tspan><tspan dy="1.48" font-size="4.01">2</tspan><tspan dy="-1.48">H</tspan><tspan dy="1.48" font-size="4.01">6</tspan><tspan dy="-1.48">-873K-Nb</tspan><tspan dy="1.48" font-size="4.01">2</tspan><tspan dy="-1.48">O</tspan><tspan dy="1.48" font-size="4.01">5</tspan></text>
<line x1="371.70" y1="121.10" x2="385.70" y2="121.10" stroke="#4a8fb2" stroke-width="1.0"/>
<circle cx="378.7" cy="121.1" r="1.6" fill="#4a8fb2"/>
<text x="388.9" y="123.3" font-size="5.9" font-weight="bold" text-anchor="start" fill="#111"><tspan>H</tspan><tspan dy="1.48" font-size="4.01">2</tspan><tspan dy="-1.48">-873K-Nb</tspan><tspan dy="1.48" font-size="4.01">2</tspan><tspan dy="-1.48">O</tspan><tspan dy="1.48" font-size="4.01">5</tspan></text>
<line x1="371.70" y1="131.00" x2="385.70" y2="131.00" stroke="#505050" stroke-width="1.0"/>
<path d="M377.09999999999997,132.2 L378.7,129.4 L380.3,132.2 Z" fill="#505050"/>
<text x="388.9" y="133.2" font-size="5.9" font-weight="bold" text-anchor="start" fill="#111"><tspan>C</tspan><tspan dy="1.48" font-size="4.01">2</tspan><tspan dy="-1.48">H</tspan><tspan dy="1.48" font-size="4.01">6</tspan><tspan dy="-1.48">/H</tspan><tspan dy="1.48" font-size="4.01">2</tspan></text>
<line x1="499.50" y1="143.40" x2="502.50" y2="143.40" stroke="#1a1a1a" stroke-width="0.9"/>
<text x="498.3" y="146.0" font-size="7.4" font-weight="bold" text-anchor="end" fill="#111"><tspan>0.0</tspan></text>
<line x1="501.00" y1="135.53" x2="502.50" y2="135.53" stroke="#1a1a1a" stroke-width="0.9"/>
<line x1="499.50" y1="127.65" x2="502.50" y2="127.65" stroke="#1a1a1a" stroke-width="0.9"/>
<text x="498.3" y="130.25" font-size="7.4" font-weight="bold" text-anchor="end" fill="#111"><tspan>0.2</tspan></text>
<line x1="501.00" y1="119.78" x2="502.50" y2="119.78" stroke="#1a1a1a" stroke-width="0.9"/>
<line x1="499.50" y1="111.90" x2="502.50" y2="111.90" stroke="#1a1a1a" stroke-width="0.9"/>
<text x="498.3" y="114.5" font-size="7.4" font-weight="bold" text-anchor="end" fill="#111"><tspan>0.4</tspan></text>
<line x1="501.00" y1="104.03" x2="502.50" y2="104.03" stroke="#1a1a1a" stroke-width="0.9"/>
<line x1="499.50" y1="96.15" x2="502.50" y2="96.15" stroke="#1a1a1a" stroke-width="0.9"/>
<text x="498.3" y="98.75" font-size="7.4" font-weight="bold" text-anchor="end" fill="#111"><tspan>0.6</tspan></text>
<line x1="501.00" y1="88.28" x2="502.50" y2="88.28" stroke="#1a1a1a" stroke-width="0.9"/>
<line x1="499.50" y1="80.40" x2="502.50" y2="80.40" stroke="#1a1a1a" stroke-width="0.9"/>
<text x="498.3" y="83.0" font-size="7.4" font-weight="bold" text-anchor="end" fill="#111"><tspan>0.8</tspan></text>
<line x1="501.00" y1="72.53" x2="502.50" y2="72.53" stroke="#1a1a1a" stroke-width="0.9"/>
<line x1="499.50" y1="64.65" x2="502.50" y2="64.65" stroke="#1a1a1a" stroke-width="0.9"/>
<text x="498.3" y="67.25" font-size="7.4" font-weight="bold" text-anchor="end" fill="#111"><tspan>1.0</tspan></text>
<line x1="501.00" y1="56.78" x2="502.50" y2="56.78" stroke="#1a1a1a" stroke-width="0.9"/>
<line x1="499.50" y1="48.90" x2="502.50" y2="48.90" stroke="#1a1a1a" stroke-width="0.9"/>
<text x="498.3" y="51.49999999999999" font-size="7.4" font-weight="bold" text-anchor="end" fill="#111"><tspan>1.2</tspan></text>
<line x1="501.00" y1="41.03" x2="502.50" y2="41.03" stroke="#1a1a1a" stroke-width="0.9"/>
<line x1="499.50" y1="33.15" x2="502.50" y2="33.15" stroke="#1a1a1a" stroke-width="0.9"/>
<text x="498.3" y="35.74999999999999" font-size="7.4" font-weight="bold" text-anchor="end" fill="#111"><tspan>1.4</tspan></text>
<line x1="501.00" y1="25.28" x2="502.50" y2="25.28" stroke="#1a1a1a" stroke-width="0.9"/>
<line x1="499.50" y1="17.40" x2="502.50" y2="17.40" stroke="#1a1a1a" stroke-width="0.9"/>
<text x="498.3" y="20.000000000000007" font-size="7.4" font-weight="bold" text-anchor="end" fill="#111"><tspan>1.6</tspan></text>
<line x1="501.00" y1="9.53" x2="502.50" y2="9.53" stroke="#1a1a1a" stroke-width="0.9"/>
<line x1="511.57" y1="143.40" x2="511.57" y2="144.90" stroke="#1a1a1a" stroke-width="0.9"/>
<line x1="526.68" y1="143.40" x2="526.68" y2="146.40" stroke="#1a1a1a" stroke-width="0.9"/>
<text x="526.676" y="153.6" font-size="7.4" font-weight="bold" text-anchor="middle" fill="#111"><tspan>300</tspan></text>
<line x1="541.79" y1="143.40" x2="541.79" y2="144.90" stroke="#1a1a1a" stroke-width="0.9"/>
<line x1="556.90" y1="143.40" x2="556.90" y2="146.40" stroke="#1a1a1a" stroke-width="0.9"/>
<text x="556.896" y="153.6" font-size="7.4" font-weight="bold" text-anchor="middle" fill="#111"><tspan>400</tspan></text>
<line x1="572.01" y1="143.40" x2="572.01" y2="144.90" stroke="#1a1a1a" stroke-width="0.9"/>
<line x1="587.12" y1="143.40" x2="587.12" y2="146.40" stroke="#1a1a1a" stroke-width="0.9"/>
<text x="587.116" y="153.6" font-size="7.4" font-weight="bold" text-anchor="middle" fill="#111"><tspan>500</tspan></text>
<line x1="602.23" y1="143.40" x2="602.23" y2="144.90" stroke="#1a1a1a" stroke-width="0.9"/>
<line x1="617.34" y1="143.40" x2="617.34" y2="146.40" stroke="#1a1a1a" stroke-width="0.9"/>
<text x="617.336" y="153.6" font-size="7.4" font-weight="bold" text-anchor="middle" fill="#111"><tspan>600</tspan></text>
<line x1="632.45" y1="143.40" x2="632.45" y2="144.90" stroke="#1a1a1a" stroke-width="0.9"/>
<line x1="647.56" y1="143.40" x2="647.56" y2="146.40" stroke="#1a1a1a" stroke-width="0.9"/>
<text x="647.556" y="153.6" font-size="7.4" font-weight="bold" text-anchor="middle" fill="#111"><tspan>700</tspan></text>
<line x1="662.67" y1="143.40" x2="662.67" y2="144.90" stroke="#1a1a1a" stroke-width="0.9"/>
<line x1="677.78" y1="143.40" x2="677.78" y2="146.40" stroke="#1a1a1a" stroke-width="0.9"/>
<text x="677.7760000000001" y="153.6" font-size="7.4" font-weight="bold" text-anchor="middle" fill="#111"><tspan>800</tspan></text>
<text x="589.7" y="167.7" font-size="8.6" font-weight="bold" text-anchor="middle" fill="#111" textLength="68.9" lengthAdjust="spacingAndGlyphs"><tspan>Wavelength (nm)</tspan></text>
<text x="480.6" y="68.7" font-size="8.6" font-weight="bold" text-anchor="middle" fill="#111" transform="rotate(-90 480.6 68.7)" textLength="69.3" lengthAdjust="spacingAndGlyphs"><tspan>Absorption (a.u.)</tspan></text>
<clipPath id="clc"><rect x="502.5" y="2.5" width="175.10000000000002" height="140.9"/></clipPath>
<g clip-path="url(#clc)">
<path d="M502.50,31.20 C503.75,31.13 507.75,30.97 510.00,30.80 C512.25,30.63 514.02,30.55 516.00,30.20 C517.98,29.85 520.48,28.97 521.90,28.70 C523.32,28.43 523.65,28.38 524.50,28.60 C525.35,28.82 526.22,28.97 527.00,30.00 C527.78,31.03 528.50,32.88 529.20,34.80 C529.90,36.72 530.60,38.97 531.20,41.50 C531.80,44.03 532.25,46.92 532.80,50.00 C533.35,53.08 533.90,56.50 534.50,60.00 C535.10,63.50 535.78,67.17 536.40,71.00 C537.02,74.83 537.58,79.00 538.20,83.00 C538.82,87.00 539.47,91.33 540.10,95.00 C540.73,98.67 541.27,101.77 542.00,105.00 C542.73,108.23 543.70,111.65 544.50,114.40 C545.30,117.15 545.98,119.35 546.80,121.50 C547.62,123.65 548.45,125.68 549.40,127.30 C550.35,128.92 551.40,130.13 552.50,131.20 C553.60,132.27 554.15,132.93 556.00,133.70 C557.85,134.47 560.43,135.32 563.60,135.80 C566.77,136.28 570.60,136.40 575.00,136.60 C579.40,136.80 582.50,136.83 590.00,137.00 C597.50,137.17 605.38,137.40 620.00,137.60 C634.62,137.80 668.08,138.10 677.70,138.20" fill="none" stroke="#454545" stroke-width="1.2" stroke-linejoin="round"/>
<path d="M502.50,28.20 C502.92,29.33 503.95,32.20 505.00,35.00 C506.05,37.80 507.72,44.00 508.80,45.00 C509.88,46.00 510.55,43.33 511.50,41.00 C512.45,38.67 513.38,33.50 514.50,31.00 C515.62,28.50 517.12,26.78 518.20,26.00 C519.28,25.22 520.03,25.92 521.00,26.30 C521.97,26.68 522.92,27.43 524.00,28.30 C525.08,29.17 526.47,29.72 527.50,31.50 C528.53,33.28 529.42,35.92 530.20,39.00 C530.98,42.08 531.57,46.50 532.20,50.00 C532.83,53.50 533.32,56.67 534.00,60.00 C534.68,63.33 535.40,66.33 536.30,70.00 C537.20,73.67 538.30,77.83 539.40,82.00 C540.50,86.17 541.88,91.17 542.90,95.00 C543.92,98.83 544.63,101.77 545.50,105.00 C546.37,108.23 547.20,111.65 548.10,114.40 C549.00,117.15 549.93,119.35 550.90,121.50 C551.87,123.65 552.95,125.68 553.90,127.30 C554.85,128.92 555.62,130.18 556.60,131.20 C557.58,132.22 558.18,132.88 559.80,133.40 C561.42,133.92 561.27,134.07 566.30,134.30 C571.33,134.53 581.05,134.60 590.00,134.80 C598.95,135.00 605.38,135.27 620.00,135.50 C634.62,135.73 668.08,136.08 677.70,136.20" fill="none" stroke="#4b92ba" stroke-width="1.2" stroke-linejoin="round"/>
<path d="M502.50,59.70 C503.08,60.17 504.92,61.77 506.00,62.50 C507.08,63.23 507.83,64.10 509.00,64.10 C510.17,64.10 511.50,62.87 513.00,62.50 C514.50,62.13 516.50,61.93 518.00,61.90 C519.50,61.87 520.83,62.05 522.00,62.30 C523.17,62.55 523.67,62.53 525.00,63.40 C526.33,64.27 528.33,65.80 530.00,67.50 C531.67,69.20 533.33,71.60 535.00,73.60 C536.67,75.60 538.33,77.55 540.00,79.50 C541.67,81.45 543.33,83.97 545.00,85.30 C546.67,86.63 548.33,87.02 550.00,87.50 C551.67,87.98 546.67,88.22 555.00,88.20 C563.33,88.18 579.55,87.53 600.00,87.40 C620.45,87.27 664.75,87.40 677.70,87.40" fill="none" stroke="#fcc52c" stroke-width="1.2" stroke-linejoin="round"/>
<path d="M502.50,45.10 C503.00,45.67 504.58,47.65 505.50,48.50 C506.42,49.35 507.17,50.28 508.00,50.20 C508.83,50.12 509.50,48.95 510.50,48.00 C511.50,47.05 512.75,45.35 514.00,44.50 C515.25,43.65 516.75,43.07 518.00,42.90 C519.25,42.73 520.33,42.77 521.50,43.50 C522.67,44.23 523.58,45.22 525.00,47.30 C526.42,49.38 528.33,52.83 530.00,56.00 C531.67,59.17 533.50,63.30 535.00,66.30 C536.50,69.30 537.67,71.57 539.00,74.00 C540.33,76.43 541.17,79.40 543.00,80.90 C544.83,82.40 545.50,82.73 550.00,83.00 C554.50,83.27 561.67,82.70 570.00,82.50 C578.33,82.30 588.33,81.92 600.00,81.80 C611.67,81.68 627.05,81.83 640.00,81.80 C652.95,81.77 671.42,81.63 677.70,81.60" fill="none" stroke="#fd6a22" stroke-width="1.2" stroke-linejoin="round"/>
<path d="M502.50,44.40 C503.75,44.53 507.92,45.02 510.00,45.20 C512.08,45.38 513.33,45.40 515.00,45.50 C516.67,45.60 518.33,45.22 520.00,45.80 C521.67,46.38 523.33,47.53 525.00,49.00 C526.67,50.47 528.33,52.18 530.00,54.60 C531.67,57.02 533.33,60.33 535.00,63.50 C536.67,66.67 538.50,71.18 540.00,73.60 C541.50,76.02 542.67,76.92 544.00,78.00 C545.33,79.08 545.33,79.90 548.00,80.10 C550.67,80.30 553.00,79.70 560.00,79.20 C567.00,78.70 580.00,77.78 590.00,77.10 C600.00,76.42 610.00,75.72 620.00,75.10 C630.00,74.48 640.38,73.95 650.00,73.40 C659.62,72.85 673.08,72.07 677.70,71.80" fill="none" stroke="#b3262b" stroke-width="1.2" stroke-linejoin="round"/>
<path d="M502.50,64.10 C503.25,64.25 505.33,64.63 507.00,65.00 C508.67,65.37 511.00,66.30 512.50,66.30 C514.00,66.30 514.58,65.42 516.00,65.00 C517.42,64.58 519.33,63.92 521.00,63.80 C522.67,63.68 524.50,64.02 526.00,64.30 C527.50,64.58 528.50,64.80 530.00,65.50 C531.50,66.20 533.67,67.75 535.00,68.50 C536.33,69.25 536.33,69.45 538.00,70.00 C539.67,70.55 541.33,71.58 545.00,71.80 C548.67,72.02 552.50,71.55 560.00,71.30 C567.50,71.05 580.00,70.62 590.00,70.30 C600.00,69.98 605.38,69.85 620.00,69.40 C634.62,68.95 668.08,67.90 677.70,67.60" fill="none" stroke="#a526b5" stroke-width="1.2" stroke-linejoin="round"/>
</g>
<rect x="502.5" y="2.5" width="175.10000000000002" height="140.9" fill="none" stroke="#1a1a1a" stroke-width="1.2"/>
<text x="517.3" y="24.3" font-size="19.5" font-weight="bold" text-anchor="middle" fill="#111"><tspan>c</tspan></text>
<line x1="626.00" y1="7.50" x2="639.00" y2="7.50" stroke="#454545" stroke-width="1.1"/>
<text x="640.3" y="9.7" font-size="6.0" font-weight="bold" text-anchor="start" fill="#111"><tspan>Nb</tspan><tspan dy="1.50" font-size="4.08">2</tspan><tspan dy="-1.50">O</tspan><tspan dy="1.50" font-size="4.08">5</tspan></text>
<line x1="626.00" y1="16.40" x2="639.00" y2="16.40" stroke="#4b92ba" stroke-width="1.1"/>
<text x="640.3" y="18.599999999999998" font-size="6.0" font-weight="bold" text-anchor="start" fill="#111"><tspan>H</tspan><tspan dy="1.50" font-size="4.08">2</tspan><tspan dy="-1.50">-Nb</tspan><tspan dy="1.50" font-size="4.08">2</tspan><tspan dy="-1.50">O</tspan><tspan dy="1.50" font-size="4.08">5</tspan></text>
<line x1="626.00" y1="25.30" x2="639.00" y2="25.30" stroke="#fcc52c" stroke-width="1.1"/>
<text x="640.3" y="27.5" font-size="6.0" font-weight="bold" text-anchor="start" fill="#111"><tspan>673K-Nb</tspan><tspan dy="1.50" font-size="4.08">2</tspan><tspan dy="-1.50">O</tspan><tspan dy="1.50" font-size="4.08">5</tspan></text>
<line x1="626.00" y1="34.20" x2="639.00" y2="34.20" stroke="#fd6a22" stroke-width="1.1"/>
<text x="640.3" y="36.400000000000006" font-size="6.0" font-weight="bold" text-anchor="start" fill="#111"><tspan>773K-Nb</tspan><tspan dy="1.50" font-size="4.08">2</tspan><tspan dy="-1.50">O</tspan><tspan dy="1.50" font-size="4.08">5</tspan></text>
<line x1="626.00" y1="43.10" x2="639.00" y2="43.10" stroke="#b3262b" stroke-width="1.1"/>
<text x="640.3" y="45.300000000000004" font-size="6.0" font-weight="bold" text-anchor="start" fill="#111"><tspan>873K-Nb</tspan><tspan dy="1.50" font-size="4.08">2</tspan><tspan dy="-1.50">O</tspan><tspan dy="1.50" font-size="4.08">5</tspan></text>
<line x1="626.00" y1="52.00" x2="639.00" y2="52.00" stroke="#a526b5" stroke-width="1.1"/>
<text x="640.3" y="54.2" font-size="6.0" font-weight="bold" text-anchor="start" fill="#111"><tspan>973K-Nb</tspan><tspan dy="1.50" font-size="4.08">2</tspan><tspan dy="-1.50">O</tspan><tspan dy="1.50" font-size="4.08">5</tspan></text>
<line x1="31.60" y1="320.20" x2="31.60" y2="323.20" stroke="#1a1a1a" stroke-width="0.9"/>
<text x="31.6" y="330.8" font-size="7.4" font-weight="bold" text-anchor="middle" fill="#111"><tspan>1400</tspan></text>
<line x1="57.38" y1="320.20" x2="57.38" y2="321.70" stroke="#1a1a1a" stroke-width="0.9"/>
<line x1="83.15" y1="320.20" x2="83.15" y2="323.20" stroke="#1a1a1a" stroke-width="0.9"/>
<text x="83.15" y="330.8" font-size="7.4" font-weight="bold" text-anchor="middle" fill="#111"><tspan>1450</tspan></text>
<line x1="108.92" y1="320.20" x2="108.92" y2="321.70" stroke="#1a1a1a" stroke-width="0.9"/>
<line x1="134.70" y1="320.20" x2="134.70" y2="323.20" stroke="#1a1a1a" stroke-width="0.9"/>
<text x="134.7" y="330.8" font-size="7.4" font-weight="bold" text-anchor="middle" fill="#111"><tspan>1500</tspan></text>
<line x1="160.47" y1="320.20" x2="160.47" y2="321.70" stroke="#1a1a1a" stroke-width="0.9"/>
<line x1="186.25" y1="320.20" x2="186.25" y2="323.20" stroke="#1a1a1a" stroke-width="0.9"/>
<text x="186.24999999999997" y="330.8" font-size="7.4" font-weight="bold" text-anchor="middle" fill="#111"><tspan>1550</tspan></text>
<text x="119.0" y="345.5" font-size="8.6" font-weight="bold" text-anchor="middle" fill="#111" textLength="79.2" lengthAdjust="spacingAndGlyphs"><tspan>Wavenumber (cm</tspan><tspan dy="-3.27" font-size="5.85">-1</tspan><tspan dy="3.27">)</tspan></text>
<text x="24.6" y="249.65" font-size="8.6" font-weight="bold" text-anchor="middle" fill="#111" transform="rotate(-90 24.6 249.65)" textLength="58.7" lengthAdjust="spacingAndGlyphs"><tspan>Intensity (a.u.)</tspan></text>
<clipPath id="cld"><rect x="31.6" y="180.4" width="174.4" height="139.79999999999998"/></clipPath>
<g clip-path="url(#cld)">
<polyline points="31.60,305.60 32.33,305.30 33.05,305.20 33.78,305.34 34.51,305.66 35.23,306.02 35.96,306.33 36.69,306.53 37.41,306.63 38.14,306.68 38.87,306.69 39.59,306.70 40.32,306.70 41.05,306.70 41.77,306.70 42.50,306.70 43.23,306.70 43.95,306.70 44.68,306.70 45.41,306.70 46.13,306.70 46.86,306.70 47.59,306.70 48.31,306.70 49.04,306.70 49.77,306.70 50.49,306.70 51.22,306.70 51.95,306.70 52.67,306.70 53.40,306.70 54.13,306.70 54.85,306.69 55.58,306.69 56.31,306.68 57.03,306.67 57.76,306.65 58.49,306.61 59.21,306.57 59.94,306.50 60.67,306.40 61.39,306.26 62.12,306.07 62.85,305.81 63.57,305.46 64.30,305.00 65.03,304.42 65.75,303.68 66.48,302.76 67.21,301.66 67.93,300.35 68.66,298.85 69.39,297.14 70.11,295.26 70.84,293.24 71.57,291.13 72.29,288.98 73.02,286.88 73.75,284.89 74.47,283.11 75.20,281.61 75.93,280.46 76.65,279.71 77.38,279.41 78.11,279.56 78.83,280.16 79.56,281.19 80.29,282.58 81.01,284.28 81.74,286.20 82.47,288.28 83.19,290.42 83.92,292.55 84.65,294.61 85.37,296.54 86.10,298.30 86.83,299.88 87.55,301.25 88.28,302.42 89.01,303.39 89.73,304.19 90.46,304.82 91.19,305.32 91.91,305.71 92.64,305.99 93.37,306.21 94.09,306.36 94.82,306.47 95.55,306.55 96.27,306.60 97.00,306.64 97.73,306.66 98.45,306.68 99.18,306.68 99.91,306.69 100.63,306.69 101.36,306.70 102.09,306.70 102.81,306.70 103.54,306.70 104.27,306.70 104.99,306.70 105.72,306.70 106.45,306.69 107.17,306.69 107.90,306.68 108.63,306.66 109.35,306.63 110.08,306.57 110.81,306.48 111.53,306.33 112.26,306.11 112.99,305.78 113.71,305.31 114.44,304.67 115.17,303.83 115.89,302.78 116.62,301.53 117.35,300.08 118.07,298.51 118.80,296.90 119.53,295.34 120.25,293.97 120.98,292.90 121.71,292.22 122.43,292.00 123.16,292.26 123.89,292.98 124.61,294.09 125.34,295.48 126.07,297.04 126.79,298.66 127.52,300.22 128.25,301.65 128.97,302.89 129.70,303.92 130.43,304.74 131.15,305.36 131.88,305.81 132.61,306.13 133.33,306.35 134.06,306.49 134.79,306.58 135.51,306.63 136.24,306.66 136.97,306.68 137.69,306.69 138.42,306.70 139.15,306.70 139.87,306.70 140.60,306.70 141.33,306.70 142.05,306.70 142.78,306.70 143.51,306.70 144.23,306.70 144.96,306.70 145.69,306.70 146.41,306.70 147.14,306.70 147.87,306.70 148.59,306.70 149.32,306.70 150.05,306.70 150.77,306.70 151.50,306.70 152.23,306.70 152.95,306.70 153.68,306.70 154.41,306.70 155.13,306.70 155.86,306.70 156.59,306.70 157.31,306.70 158.04,306.70 158.77,306.70 159.49,306.70 160.22,306.70 160.95,306.69 161.67,306.68 162.40,306.66 163.13,306.63 163.85,306.56 164.58,306.45 165.31,306.27 166.03,305.98 166.76,305.55 167.49,304.93 168.21,304.06 168.94,302.93 169.67,301.52 170.39,299.85 171.12,297.98 171.85,296.03 172.57,294.12 173.30,292.44 174.03,291.15 174.75,290.38 175.48,290.22 176.21,290.69 176.93,291.73 177.66,293.24 178.39,295.05 179.11,297.00 179.84,298.93 180.57,300.71 181.29,302.26 182.02,303.53 182.75,304.52 183.47,305.26 184.20,305.79 184.93,306.14 185.65,306.37 186.38,306.51 187.11,306.60 187.83,306.65 188.56,306.67 189.29,306.69 190.01,306.69 190.74,306.70 191.47,306.70 192.19,306.70 192.92,306.70 193.65,306.70 194.37,306.69 195.10,306.69 195.83,306.68 196.55,306.67 197.28,306.64 198.01,306.61 198.73,306.55 199.46,306.46 200.19,306.33 200.91,306.13 201.64,305.86 202.37,305.47 203.09,304.94 203.82,304.24 204.55,303.33 205.27,302.18 206.00,300.76" fill="none" stroke="#4a4a4a" stroke-width="1.1" stroke-linejoin="round"/>
<polyline points="31.60,305.82 32.33,305.58 33.05,305.50 33.78,305.61 34.51,305.87 35.23,306.16 35.96,306.40 36.69,306.56 37.41,306.65 38.14,306.68 38.87,306.70 39.59,306.70 40.32,306.70 41.05,306.70 41.77,306.70 42.50,306.70 43.23,306.70 43.95,306.70 44.68,306.70 45.41,306.70 46.13,306.70 46.86,306.70 47.59,306.70 48.31,306.70 49.04,306.70 49.77,306.70 50.49,306.70 51.22,306.70 51.95,306.70 52.67,306.70 53.40,306.70 54.13,306.70 54.85,306.69 55.58,306.69 56.31,306.68 57.03,306.67 57.76,306.66 58.49,306.63 59.21,306.59 59.94,306.53 60.67,306.43 61.39,306.30 62.12,306.10 62.85,305.83 63.57,305.46 64.30,304.96 65.03,304.30 65.75,303.45 66.48,302.39 67.21,301.08 67.93,299.50 68.66,297.64 69.39,295.51 70.11,293.12 70.84,290.53 71.57,287.78 72.29,284.96 73.02,282.17 73.75,279.52 74.47,277.13 75.20,275.10 75.93,273.54 76.65,272.52 77.38,272.11 78.11,272.32 78.83,273.14 79.56,274.53 80.29,276.41 81.01,278.70 81.74,281.28 82.47,284.03 83.19,286.85 83.92,289.63 84.65,292.29 85.37,294.75 86.10,296.97 86.83,298.91 87.55,300.58 88.28,301.98 89.01,303.13 89.73,304.04 90.46,304.76 91.19,305.31 91.91,305.72 92.64,306.02 93.37,306.24 94.09,306.39 94.82,306.50 95.55,306.57 96.27,306.62 97.00,306.65 97.73,306.67 98.45,306.68 99.18,306.69 99.91,306.69 100.63,306.70 101.36,306.70 102.09,306.70 102.81,306.70 103.54,306.70 104.27,306.70 104.99,306.70 105.72,306.70 106.45,306.69 107.17,306.69 107.90,306.67 108.63,306.65 109.35,306.61 110.08,306.53 110.81,306.41 111.53,306.22 112.26,305.92 112.99,305.49 113.71,304.87 114.44,304.04 115.17,302.94 115.89,301.56 116.62,299.91 117.35,298.01 118.07,295.95 118.80,293.83 119.53,291.79 120.25,289.99 120.98,288.58 121.71,287.69 122.43,287.40 123.16,287.75 123.89,288.69 124.61,290.14 125.34,291.97 126.07,294.02 126.79,296.14 127.52,298.19 128.25,300.07 128.97,301.70 129.70,303.05 130.43,304.12 131.15,304.94 131.88,305.54 132.61,305.96 133.33,306.24 134.06,306.42 134.79,306.54 135.51,306.61 136.24,306.65 136.97,306.67 137.69,306.69 138.42,306.69 139.15,306.70 139.87,306.70 140.60,306.70 141.33,306.70 142.05,306.70 142.78,306.70 143.51,306.70 144.23,306.70 144.96,306.70 145.69,306.70 146.41,306.70 147.14,306.70 147.87,306.70 148.59,306.70 149.32,306.70 150.05,306.70 150.77,306.70 151.50,306.70 152.23,306.70 152.95,306.70 153.68,306.70 154.41,306.70 155.13,306.70 155.86,306.70 156.59,306.70 157.31,306.70 158.04,306.70 158.77,306.70 159.49,306.70 160.22,306.70 160.95,306.70 161.67,306.70 162.40,306.69 163.13,306.68 163.85,306.66 164.58,306.63 165.31,306.57 166.03,306.47 166.76,306.31 167.49,306.05 168.21,305.67 168.94,305.13 169.67,304.38 170.39,303.42 171.12,302.23 171.85,300.83 172.57,299.29 173.30,297.70 174.03,296.18 174.75,294.87 175.48,293.90 176.21,293.38 176.93,293.35 177.66,293.84 178.39,294.77 179.11,296.06 179.84,297.57 180.57,299.16 181.29,300.71 182.02,302.12 182.75,303.33 183.47,304.31 184.20,305.07 184.93,305.63 185.65,306.03 186.38,306.29 187.11,306.46 187.83,306.57 188.56,306.63 189.29,306.66 190.01,306.68 190.74,306.69 191.47,306.69 192.19,306.69 192.92,306.69 193.65,306.68 194.37,306.67 195.10,306.66 195.83,306.63 196.55,306.59 197.28,306.53 198.01,306.45 198.73,306.32 199.46,306.15 200.19,305.90 200.91,305.57 201.64,305.13 202.37,304.55 203.09,303.82 203.82,302.90 204.55,301.77 205.27,300.42 206.00,298.84" fill="none" stroke="#4b92ba" stroke-width="1.1" stroke-linejoin="round"/>
<polyline points="31.60,305.47 32.33,304.91 33.05,304.70 33.78,304.98 34.51,305.57 35.23,306.13 35.96,306.48 36.69,306.63 37.41,306.68 38.14,306.70 38.87,306.70 39.59,306.70 40.32,306.70 41.05,306.69 41.77,306.69 42.50,306.68 43.23,306.66 43.95,306.64 44.68,306.60 45.41,306.55 46.13,306.48 46.86,306.40 47.59,306.29 48.31,306.15 49.04,306.00 49.77,305.84 50.49,305.68 51.22,305.52 51.95,305.39 52.67,305.28 53.40,305.22 54.13,305.20 54.85,305.23 55.58,305.31 56.31,305.43 57.03,305.57 57.76,305.74 58.49,305.90 59.21,306.05 59.94,306.19 60.67,306.31 61.39,306.40 62.12,306.45 62.85,306.45 63.57,306.40 64.30,306.26 65.03,306.01 65.75,305.58 66.48,304.90 67.21,303.89 67.93,302.42 68.66,300.39 69.39,297.68 70.11,294.20 70.84,289.91 71.57,284.84 72.29,279.13 73.02,273.01 73.75,266.79 74.47,260.89 75.20,255.74 75.93,251.77 76.65,249.32 77.38,248.61 78.11,249.71 78.83,252.52 79.56,256.79 80.29,262.14 81.01,268.15 81.74,274.38 82.47,280.44 83.19,286.02 83.92,290.93 84.65,295.06 85.37,298.41 86.10,301.05 86.83,303.11 87.55,304.70 88.28,305.88 89.01,306.68 89.73,307.11 90.46,307.23 91.19,307.15 91.91,306.99 92.64,306.85 93.37,306.76 94.09,306.72 94.82,306.70 95.55,306.70 96.27,306.70 97.00,306.70 97.73,306.70 98.45,306.70 99.18,306.70 99.91,306.70 100.63,306.70 101.36,306.70 102.09,306.70 102.81,306.70 103.54,306.70 104.27,306.70 104.99,306.70 105.72,306.70 106.45,306.69 107.17,306.68 107.90,306.67 108.63,306.64 109.35,306.59 110.08,306.51 110.81,306.38 111.53,306.16 112.26,305.84 112.99,305.35 113.71,304.67 114.44,303.73 115.17,302.51 115.89,300.97 116.62,299.13 117.35,297.02 118.07,294.72 118.80,292.36 119.53,290.09 120.25,288.08 120.98,286.51 121.71,285.52 122.43,285.20 123.16,285.58 123.89,286.63 124.61,288.25 125.34,290.29 126.07,292.58 126.79,294.94 127.52,297.22 128.25,299.31 128.97,301.12 129.70,302.62 130.43,303.80 131.15,304.69 131.88,305.33 132.61,305.75 133.33,306.01 134.06,306.14 134.79,306.18 135.51,306.17 136.24,306.14 136.97,306.11 137.69,306.09 138.42,306.10 139.15,306.14 139.87,306.20 140.60,306.29 141.33,306.38 142.05,306.46 142.78,306.53 143.51,306.59 144.23,306.63 144.96,306.66 145.69,306.68 146.41,306.69 147.14,306.69 147.87,306.70 148.59,306.70 149.32,306.70 150.05,306.70 150.77,306.70 151.50,306.70 152.23,306.70 152.95,306.70 153.68,306.70 154.41,306.70 155.13,306.70 155.86,306.70 156.59,306.70 157.31,306.71 158.04,306.72 158.77,306.74 159.49,306.78 160.22,306.86 160.95,306.98 161.67,307.14 162.40,307.30 163.13,307.43 163.85,307.49 164.58,307.45 165.31,307.31 166.03,307.11 166.76,306.86 167.49,306.57 168.21,306.22 168.94,305.75 169.67,305.10 170.39,304.18 171.12,302.93 171.85,301.30 172.57,299.27 173.30,296.89 174.03,294.26 174.75,291.55 175.48,288.99 176.21,286.82 176.93,285.29 177.66,284.55 178.39,284.70 179.11,285.73 179.84,287.50 180.57,289.83 181.29,292.46 182.02,295.17 182.75,297.73 183.47,300.00 184.20,301.94 184.93,303.60 185.65,304.88 186.38,305.84 187.11,306.55 187.83,307.06 188.56,307.35 189.29,306.54 190.01,305.68 190.74,304.78 191.47,303.87 192.19,302.73 192.92,301.02 193.65,299.30 194.37,297.58 195.10,295.95 195.83,294.89 196.55,293.83 197.28,292.77 198.01,291.71 198.73,290.65 199.46,289.59 200.19,288.51 200.91,287.40 201.64,286.29 202.37,285.17 203.09,284.03 203.82,282.68 204.55,281.33 205.27,279.98 206.00,278.63" fill="none" stroke="#c4242b" stroke-width="1.3" stroke-linejoin="round"/>
</g>
<rect x="31.6" y="180.4" width="174.4" height="139.79999999999998" fill="none" stroke="#1a1a1a" stroke-width="1.2"/>
<text x="42.3" y="200.0" font-size="19.5" font-weight="bold" text-anchor="middle" fill="#111"><tspan>d</tspan></text>
<text x="73.1" y="241.3" font-size="6.5" font-weight="bold" text-anchor="middle" fill="#111"><tspan>LA site</tspan></text>
<text x="176.6" y="275.0" font-size="6.6" font-weight="bold" text-anchor="middle" fill="#111"><tspan>BA site</tspan></text>
<text x="204.0" y="192.0" font-size="7.3" font-weight="bold" text-anchor="end" fill="#111" textLength="53.5" lengthAdjust="spacingAndGlyphs"><tspan>Desprb at 473K</tspan></text>
<line x1="153.60" y1="199.20" x2="167.30" y2="199.20" stroke="#4a4a4a" stroke-width="1.1"/>
<text x="168.6" y="201.39999999999998" font-size="6.0" font-weight="bold" text-anchor="start" fill="#111"><tspan>Nb</tspan><tspan dy="1.50" font-size="4.08">2</tspan><tspan dy="-1.50">O</tspan><tspan dy="1.50" font-size="4.08">5</tspan></text>
<line x1="153.60" y1="208.60" x2="167.30" y2="208.60" stroke="#4b92ba" stroke-width="1.1"/>
<text x="168.6" y="210.79999999999998" font-size="6.0" font-weight="bold" text-anchor="start" fill="#111"><tspan>H</tspan><tspan dy="1.50" font-size="4.08">2</tspan><tspan dy="-1.50">-Nb</tspan><tspan dy="1.50" font-size="4.08">2</tspan><tspan dy="-1.50">O</tspan><tspan dy="1.50" font-size="4.08">5</tspan></text>
<line x1="153.60" y1="217.30" x2="167.30" y2="217.30" stroke="#c4242b" stroke-width="1.1"/>
<text x="168.6" y="219.5" font-size="6.0" font-weight="bold" text-anchor="start" fill="#111"><tspan>873K-Nb</tspan><tspan dy="1.50" font-size="4.08">2</tspan><tspan dy="-1.50">O</tspan><tspan dy="1.50" font-size="4.08">5</tspan></text>
<line x1="263.80" y1="320.80" x2="266.80" y2="320.80" stroke="#1a1a1a" stroke-width="0.9"/>
<text x="262.6" y="323.40000000000003" font-size="7.4" font-weight="bold" text-anchor="end" fill="#111"><tspan>0</tspan></text>
<line x1="265.30" y1="300.25" x2="266.80" y2="300.25" stroke="#1a1a1a" stroke-width="0.9"/>
<line x1="263.80" y1="279.70" x2="266.80" y2="279.70" stroke="#1a1a1a" stroke-width="0.9"/>
<text x="262.6" y="282.30000000000007" font-size="7.4" font-weight="bold" text-anchor="end" fill="#111"><tspan>500</tspan></text>
<line x1="265.30" y1="259.15" x2="266.80" y2="259.15" stroke="#1a1a1a" stroke-width="0.9"/>
<line x1="263.80" y1="238.60" x2="266.80" y2="238.60" stroke="#1a1a1a" stroke-width="0.9"/>
<text x="262.6" y="241.20000000000002" font-size="7.4" font-weight="bold" text-anchor="end" fill="#111"><tspan>1000</tspan></text>
<line x1="265.30" y1="218.05" x2="266.80" y2="218.05" stroke="#1a1a1a" stroke-width="0.9"/>
<line x1="263.80" y1="197.50" x2="266.80" y2="197.50" stroke="#1a1a1a" stroke-width="0.9"/>
<text x="262.6" y="200.1" font-size="7.4" font-weight="bold" text-anchor="end" fill="#111"><tspan>1500</tspan></text>
<line x1="296.25" y1="320.80" x2="296.25" y2="323.40" stroke="#1a1a1a" stroke-width="0.9"/>
<text x="296.25" y="332.2" font-size="7.3" font-weight="bold" text-anchor="middle" fill="#111"><tspan>873K-Nb</tspan><tspan dy="1.82" font-size="4.96">2</tspan><tspan dy="-1.82">O</tspan><tspan dy="1.82" font-size="4.96">5</tspan></text>
<line x1="354.40" y1="320.80" x2="354.40" y2="323.40" stroke="#1a1a1a" stroke-width="0.9"/>
<text x="354.4" y="332.2" font-size="7.3" font-weight="bold" text-anchor="middle" fill="#111"><tspan>H</tspan><tspan dy="1.82" font-size="4.96">2</tspan><tspan dy="-1.82">-Nb</tspan><tspan dy="1.82" font-size="4.96">2</tspan><tspan dy="-1.82">O</tspan><tspan dy="1.82" font-size="4.96">5</tspan></text>
<line x1="412.40" y1="320.80" x2="412.40" y2="323.40" stroke="#1a1a1a" stroke-width="0.9"/>
<text x="412.4" y="332.2" font-size="7.3" font-weight="bold" text-anchor="middle" fill="#111"><tspan>Nb</tspan><tspan dy="1.82" font-size="4.96">2</tspan><tspan dy="-1.82">O</tspan><tspan dy="1.82" font-size="4.96">5</tspan></text>
<rect x="272.62" y="200.50" width="15.75" height="120.30" fill="url(#hb)" stroke="#4a8db4" stroke-width="1.0"/>
<rect x="288.38" y="264.50" width="15.75" height="56.30" fill="url(#hr)" stroke="#bc1e25" stroke-width="1.0"/>
<rect x="304.12" y="304.50" width="15.75" height="16.30" fill="url(#hy)" stroke="#f0b12e" stroke-width="1.0"/>
<rect x="330.77" y="280.75" width="15.75" height="40.05" fill="url(#hb)" stroke="#4a8db4" stroke-width="1.0"/>
<rect x="346.52" y="317.50" width="15.75" height="3.30" fill="url(#hr)" stroke="#bc1e25" stroke-width="1.0"/>
<rect x="362.27" y="319.25" width="15.75" height="1.55" fill="url(#hy)" stroke="#f0b12e" stroke-width="1.0"/>
<rect x="266.8" y="180.4" width="175.0" height="140.4" fill="none" stroke="#1a1a1a" stroke-width="1.2"/>
<text x="283.3" y="200.0" font-size="19.5" font-weight="bold" text-anchor="middle" fill="#111"><tspan>e</tspan></text>
<text x="241.4" y="250.75" font-size="8.6" font-weight="bold" text-anchor="middle" fill="#111" transform="rotate(-90 241.4 250.75)" textLength="131" lengthAdjust="spacingAndGlyphs"><tspan>CH</tspan><tspan dy="2.15" font-size="5.85">4</tspan><tspan dy="-2.15"> conversion rate(μmol g</tspan><tspan dy="-3.27" font-size="5.85">-1</tspan><tspan dy="3.27">h</tspan><tspan dy="-3.27" font-size="5.85">-1</tspan><tspan dy="3.27">)</tspan></text>
<rect x="366.60" y="183.50" width="13.80" height="6.10" fill="url(#hbL)" stroke="#4a8db4" stroke-width="1.0"/>
<text x="381.9" y="188.7" font-size="5.9" font-weight="bold" text-anchor="start" fill="#111"><tspan>original</tspan></text>
<rect x="366.60" y="191.25" width="13.80" height="6.10" fill="url(#hrL)" stroke="#bc1e25" stroke-width="1.0"/>
<text x="381.9" y="196.45" font-size="5.9" font-weight="bold" text-anchor="start" fill="#111"><tspan>Pyridine adsorption</tspan></text>
<rect x="366.60" y="199.00" width="13.80" height="6.10" fill="url(#hyL)" stroke="#f0b12e" stroke-width="1.0"/>
<text x="381.9" y="204.2" font-size="5.9" font-weight="bold" text-anchor="start" fill="#111"><tspan>Pyrrole adsorption</tspan></text>
<line x1="523.95" y1="320.80" x2="523.95" y2="323.80" stroke="#1a1a1a" stroke-width="0.9"/>
<text x="523.95" y="331.8" font-size="7.4" font-weight="bold" text-anchor="middle" fill="#111"><tspan>100</tspan></text>
<line x1="543.40" y1="320.80" x2="543.40" y2="322.30" stroke="#1a1a1a" stroke-width="0.9"/>
<line x1="562.85" y1="320.80" x2="562.85" y2="323.80" stroke="#1a1a1a" stroke-width="0.9"/>
<text x="562.85" y="331.8" font-size="7.4" font-weight="bold" text-anchor="middle" fill="#111"><tspan>200</tspan></text>
<line x1="582.30" y1="320.80" x2="582.30" y2="322.30" stroke="#1a1a1a" stroke-width="0.9"/>
<line x1="601.75" y1="320.80" x2="601.75" y2="323.80" stroke="#1a1a1a" stroke-width="0.9"/>
<text x="601.75" y="331.8" font-size="7.4" font-weight="bold" text-anchor="middle" fill="#111"><tspan>300</tspan></text>
<line x1="621.20" y1="320.80" x2="621.20" y2="322.30" stroke="#1a1a1a" stroke-width="0.9"/>
<line x1="640.65" y1="320.80" x2="640.65" y2="323.80" stroke="#1a1a1a" stroke-width="0.9"/>
<text x="640.65" y="331.8" font-size="7.4" font-weight="bold" text-anchor="middle" fill="#111"><tspan>400</tspan></text>
<line x1="660.10" y1="320.80" x2="660.10" y2="322.30" stroke="#1a1a1a" stroke-width="0.9"/>
<line x1="679.55" y1="320.80" x2="679.55" y2="323.80" stroke="#1a1a1a" stroke-width="0.9"/>
<text x="679.55" y="331.8" font-size="7.4" font-weight="bold" text-anchor="middle" fill="#111"><tspan>500</tspan></text>
<text x="591.9" y="345.5" font-size="8.6" font-weight="bold" text-anchor="middle" fill="#111" textLength="66.2" lengthAdjust="spacingAndGlyphs"><tspan>Temperature(°C)</tspan></text>
<text x="497.3" y="249.9" font-size="8.6" font-weight="bold" text-anchor="middle" fill="#111" transform="rotate(-90 497.3 249.9)" textLength="56.6" lengthAdjust="spacingAndGlyphs"><tspan>Intensity(a.u.)</tspan></text>
<clipPath id="clf"><rect x="504.5" y="180.5" width="175.0" height="140.3"/></clipPath>
<g clip-path="url(#clf)">
<path d="M504.50,311.40 C507.08,311.53 514.92,311.93 520.00,312.20 C525.08,312.47 531.12,312.85 535.00,313.00 C538.88,313.15 540.80,313.35 543.30,313.10 C545.80,312.85 547.88,312.18 550.00,311.50 C552.12,310.82 554.25,309.83 556.00,309.00 C557.75,308.17 559.00,307.58 560.50,306.50 C562.00,305.42 563.55,304.50 565.00,302.50 C566.45,300.50 567.87,296.67 569.20,294.50 C570.53,292.33 571.87,290.68 573.00,289.50 C574.13,288.32 575.10,287.82 576.00,287.40 C576.90,286.98 577.57,286.82 578.40,287.00 C579.23,287.18 579.85,287.65 581.00,288.50 C582.15,289.35 584.05,290.85 585.30,292.10 C586.55,293.35 587.35,294.85 588.50,296.00 C589.65,297.15 590.95,298.12 592.20,299.00 C593.45,299.88 594.70,300.70 596.00,301.30 C597.30,301.90 597.98,301.90 600.00,302.60 C602.02,303.30 605.10,304.63 608.10,305.50 C611.10,306.37 614.70,307.17 618.00,307.80 C621.30,308.43 622.97,308.62 627.90,309.30 C632.83,309.98 639.00,311.02 647.60,311.90 C656.20,312.78 674.18,314.15 679.50,314.60" fill="none" stroke="#4a4a4a" stroke-width="1.15" stroke-linejoin="round"/>
<path d="M504.50,310.00 C507.08,309.92 514.92,309.72 520.00,309.50 C525.08,309.28 531.12,308.95 535.00,308.70 C538.88,308.45 540.80,308.62 543.30,308.00 C545.80,307.38 547.88,306.08 550.00,305.00 C552.12,303.92 554.25,302.62 556.00,301.50 C557.75,300.38 559.07,299.87 560.50,298.30 C561.93,296.73 563.15,294.67 564.60,292.10 C566.05,289.53 567.67,286.73 569.20,282.90 C570.73,279.07 572.47,273.58 573.80,269.10 C575.13,264.62 576.25,259.02 577.20,256.00 C578.15,252.98 578.85,252.08 579.50,251.00 C580.15,249.92 580.55,249.50 581.10,249.50 C581.65,249.50 582.30,250.03 582.80,251.00 C583.30,251.97 583.50,253.05 584.10,255.30 C584.70,257.55 585.43,261.05 586.40,264.50 C587.37,267.95 588.75,272.17 589.90,276.00 C591.05,279.83 592.15,284.25 593.30,287.50 C594.45,290.75 595.68,293.88 596.80,295.50 C597.92,297.12 598.97,296.87 600.00,297.20 C601.03,297.53 602.00,297.45 603.00,297.50 C604.00,297.55 605.08,297.43 606.00,297.50 C606.92,297.57 607.67,297.57 608.50,297.90 C609.33,298.23 610.25,298.73 611.00,299.50 C611.75,300.27 612.33,301.33 613.00,302.50 C613.67,303.67 614.33,305.45 615.00,306.50 C615.67,307.55 616.00,308.27 617.00,308.80 C618.00,309.33 618.83,309.50 621.00,309.70 C623.17,309.90 626.00,310.07 630.00,310.00 C634.00,309.93 640.00,309.52 645.00,309.30 C650.00,309.08 654.25,308.92 660.00,308.70 C665.75,308.48 676.25,308.12 679.50,308.00" fill="none" stroke="#4b92ba" stroke-width="1.15" stroke-linejoin="round"/>
<path d="M504.50,311.90 C507.08,311.87 514.92,311.75 520.00,311.70 C525.08,311.65 531.12,311.65 535.00,311.60 C538.88,311.55 540.80,311.75 543.30,311.40 C545.80,311.05 547.88,310.32 550.00,309.50 C552.12,308.68 554.25,307.53 556.00,306.50 C557.75,305.47 559.00,304.88 560.50,303.30 C562.00,301.72 563.55,299.72 565.00,297.00 C566.45,294.28 567.87,290.67 569.20,287.00 C570.53,283.33 571.78,279.50 573.00,275.00 C574.22,270.50 575.42,264.83 576.50,260.00 C577.58,255.17 578.67,249.50 579.50,246.00 C580.33,242.50 580.92,240.52 581.50,239.00 C582.08,237.48 582.48,236.90 583.00,236.90 C583.52,236.90 584.03,237.85 584.60,239.00 C585.17,240.15 585.52,240.70 586.40,243.80 C587.28,246.90 588.55,253.77 589.90,257.60 C591.25,261.43 593.15,264.82 594.50,266.80 C595.85,268.78 596.92,268.30 598.00,269.50 C599.08,270.70 600.08,272.17 601.00,274.00 C601.92,275.83 602.58,278.00 603.50,280.50 C604.42,283.00 605.50,286.33 606.50,289.00 C607.50,291.67 608.58,294.95 609.50,296.50 C610.42,298.05 611.13,297.88 612.00,298.30 C612.87,298.72 613.95,298.47 614.70,299.00 C615.45,299.53 615.95,300.50 616.50,301.50 C617.05,302.50 617.42,303.88 618.00,305.00 C618.58,306.12 619.00,307.48 620.00,308.20 C621.00,308.92 622.67,309.12 624.00,309.30 C625.33,309.48 626.33,309.43 628.00,309.30 C629.67,309.17 632.27,308.72 634.00,308.50 C635.73,308.28 636.80,307.88 638.40,308.00 C640.00,308.12 640.98,308.98 643.60,309.20 C646.22,309.42 650.53,309.42 654.10,309.30 C657.67,309.18 660.77,308.83 665.00,308.50 C669.23,308.17 677.08,307.50 679.50,307.30" fill="none" stroke="#fcc52c" stroke-width="1.15" stroke-linejoin="round"/>
<path d="M504.50,311.00 C507.08,310.97 514.92,310.88 520.00,310.80 C525.08,310.72 531.12,310.60 535.00,310.50 C538.88,310.40 540.80,310.65 543.30,310.20 C545.80,309.75 547.88,308.75 550.00,307.80 C552.12,306.85 554.25,305.55 556.00,304.50 C557.75,303.45 559.27,302.67 560.50,301.50 C561.73,300.33 562.40,299.42 563.40,297.50 C564.40,295.58 565.53,292.75 566.50,290.00 C567.47,287.25 567.98,285.25 569.20,281.00 C570.42,276.75 572.47,269.93 573.80,264.50 C575.13,259.07 576.17,253.15 577.20,248.40 C578.23,243.65 579.17,239.32 580.00,236.00 C580.83,232.68 581.57,230.15 582.20,228.50 C582.83,226.85 583.28,226.02 583.80,226.10 C584.32,226.18 584.85,226.85 585.30,229.00 C585.75,231.15 585.93,233.08 586.50,239.00 C587.07,244.92 587.95,257.18 588.70,264.50 C589.45,271.82 590.03,277.62 591.00,282.90 C591.97,288.18 593.50,293.40 594.50,296.20 C595.50,299.00 596.08,298.77 597.00,299.70 C597.92,300.63 598.83,301.08 600.00,301.80 C601.17,302.52 602.65,303.40 604.00,304.00 C605.35,304.60 606.75,304.85 608.10,305.40 C609.45,305.95 610.78,306.62 612.10,307.30 C613.42,307.98 614.47,309.05 616.00,309.50 C617.53,309.95 618.88,310.13 621.30,310.00 C623.72,309.87 626.12,309.15 630.50,308.70 C634.88,308.25 642.68,307.67 647.60,307.30 C652.52,306.93 654.68,306.82 660.00,306.50 C665.32,306.18 676.25,305.58 679.50,305.40" fill="none" stroke="#fd6a22" stroke-width="1.15" stroke-linejoin="round"/>
<path d="M504.50,313.10 C507.08,312.97 514.92,312.68 520.00,312.30 C525.08,311.92 531.12,311.23 535.00,310.80 C538.88,310.37 540.80,310.30 543.30,309.70 C545.80,309.10 547.88,307.98 550.00,307.20 C552.12,306.42 554.33,305.60 556.00,305.00 C557.67,304.40 558.18,304.60 560.00,303.60 C561.82,302.60 564.80,300.92 566.90,299.00 C569.00,297.08 571.07,294.78 572.60,292.10 C574.13,289.42 574.95,286.73 576.10,282.90 C577.25,279.07 578.35,274.08 579.50,269.10 C580.65,264.12 581.85,258.37 583.00,253.00 C584.15,247.63 585.40,241.73 586.40,236.90 C587.40,232.07 588.15,227.98 589.00,224.00 C589.85,220.02 590.70,216.08 591.50,213.00 C592.30,209.92 593.08,207.63 593.80,205.50 C594.52,203.37 595.22,201.35 595.80,200.20 C596.38,199.05 596.77,198.67 597.30,198.60 C597.83,198.53 598.43,198.93 599.00,199.80 C599.57,200.67 599.85,200.27 600.70,203.80 C601.55,207.33 602.95,215.25 604.10,221.00 C605.25,226.75 606.45,233.12 607.60,238.30 C608.75,243.48 609.85,248.37 611.00,252.10 C612.15,255.83 613.05,258.40 614.50,260.70 C615.95,263.00 617.40,264.18 619.70,265.90 C622.00,267.62 625.43,269.57 628.30,271.00 C631.17,272.43 634.03,272.67 636.90,274.50 C639.77,276.33 642.32,279.45 645.50,282.00 C648.68,284.55 652.75,287.75 656.00,289.80 C659.25,291.85 661.08,292.52 665.00,294.30 C668.92,296.08 677.08,299.47 679.50,300.50" fill="none" stroke="#b3232b" stroke-width="1.15" stroke-linejoin="round"/>
</g>
<rect x="504.5" y="180.5" width="175.0" height="140.3" fill="none" stroke="#1a1a1a" stroke-width="1.2"/>
<line x1="679.50" y1="181.10" x2="679.50" y2="320.20" stroke="#6a6a6a" stroke-width="1.3"/>
<text x="665.5" y="199.5" font-size="19.5" font-weight="bold" text-anchor="middle" fill="#111"><tspan>f</tspan></text>
<line x1="507.50" y1="187.50" x2="520.80" y2="187.50" stroke="#4a4a4a" stroke-width="1.1"/>
<text x="522.5" y="189.7" font-size="6.0" font-weight="bold" text-anchor="start" fill="#111"><tspan>Nb</tspan><tspan dy="1.50" font-size="4.08">2</tspan><tspan dy="-1.50">O</tspan><tspan dy="1.50" font-size="4.08">5</tspan></text>
<line x1="507.50" y1="196.40" x2="520.80" y2="196.40" stroke="#4b92ba" stroke-width="1.1"/>
<text x="522.5" y="198.6" font-size="6.0" font-weight="bold" text-anchor="start" fill="#111"><tspan>H</tspan><tspan dy="1.50" font-size="4.08">2</tspan><tspan dy="-1.50">-Nb</tspan><tspan dy="1.50" font-size="4.08">2</tspan><tspan dy="-1.50">O</tspan><tspan dy="1.50" font-size="4.08">5</tspan></text>
<line x1="507.50" y1="205.30" x2="520.80" y2="205.30" stroke="#fcc52c" stroke-width="1.1"/>
<text x="522.5" y="207.5" font-size="6.0" font-weight="bold" text-anchor="start" fill="#111"><tspan>Pyrrole-873K-Nb</tspan><tspan dy="1.50" font-size="4.08">2</tspan><tspan dy="-1.50">O</tspan><tspan dy="1.50" font-size="4.08">5</tspan></text>
<line x1="507.50" y1="214.20" x2="520.80" y2="214.20" stroke="#fd6a22" stroke-width="1.1"/>
<text x="522.5" y="216.39999999999998" font-size="6.0" font-weight="bold" text-anchor="start" fill="#111"><tspan>Pyridine-873K-Nb</tspan><tspan dy="1.50" font-size="4.08">2</tspan><tspan dy="-1.50">O</tspan><tspan dy="1.50" font-size="4.08">5</tspan></text>
<line x1="507.50" y1="223.10" x2="520.80" y2="223.10" stroke="#b3232b" stroke-width="1.1"/>
<text x="522.5" y="225.29999999999998" font-size="6.0" font-weight="bold" text-anchor="start" fill="#111"><tspan>873K-Nb</tspan><tspan dy="1.50" font-size="4.08">2</tspan><tspan dy="-1.50">O</tspan><tspan dy="1.50" font-size="4.08">5</tspan></text>
</svg>
</body></html>
